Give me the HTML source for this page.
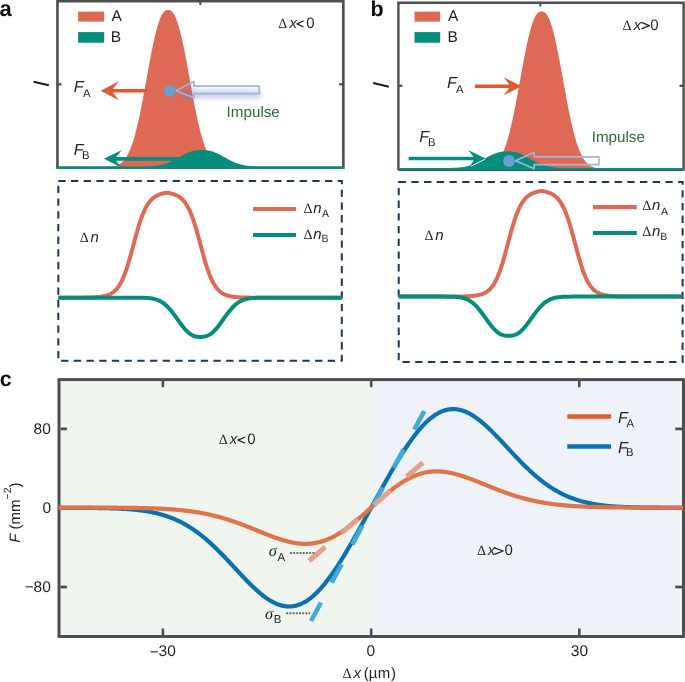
<!DOCTYPE html>
<html><head><meta charset="utf-8"><style>
html,body{margin:0;padding:0;background:#fff;}
svg{display:block;will-change:transform;}
text{font-family:"Liberation Sans",sans-serif;}
</style></head><body>
<svg width="685" height="682" viewBox="0 0 685 682" text-rendering="geometricPrecision">
<rect width="685" height="682" fill="#fff"/>
<defs><filter id="blur3" x="-30%" y="-80%" width="160%" height="260%"><feGaussianBlur stdDeviation="2.6"/></filter><linearGradient id="shaftg" x1="0" y1="0" x2="0" y2="1"><stop offset="0" stop-color="#ffffff" stop-opacity="0.95"/><stop offset="1" stop-color="#cdd5ea" stop-opacity="0.95"/></linearGradient></defs>
<text x="-0.64" y="16.3" font-size="22" style='font-family:"Liberation Sans"' font-weight="bold" fill="#111">a</text>
<text x="370.38" y="16.2" font-size="21.5" style='font-family:"Liberation Sans"' font-weight="bold" fill="#111">b</text>
<text x="-0.24" y="385.7" font-size="21.5" style='font-family:"Liberation Sans"' font-weight="bold" fill="#111">c</text>
<path d="M57.45,168.7 V1.1 H343.35 V168.7" fill="none" stroke="#4d4e52" stroke-width="2.6"/>
<line x1="57.45" y1="167.6" x2="343.35" y2="167.6" stroke="#4d4e52" stroke-width="2.2"/>
<line x1="200.3" y1="1" x2="200.3" y2="5" stroke="#4d4e52" stroke-width="2"/>
<line x1="57" y1="84.3" x2="61.5" y2="84.3" stroke="#4d4e52" stroke-width="2.3"/>
<line x1="344" y1="84.3" x2="339.1" y2="84.3" stroke="#4d4e52" stroke-width="2.3"/>
<path d="M59,167.5 L59,167.5 L59.5,167.5 L60,167.5 L60.5,167.5 L61,167.5 L61.5,167.5 L62,167.5 L62.5,167.5 L63,167.5 L63.5,167.5 L64,167.5 L64.5,167.5 L65,167.5 L65.5,167.5 L66,167.5 L66.5,167.5 L67,167.5 L67.5,167.5 L68,167.5 L68.5,167.5 L69,167.5 L69.5,167.5 L70,167.5 L70.5,167.5 L71,167.5 L71.5,167.5 L72,167.5 L72.5,167.5 L73,167.5 L73.5,167.5 L74,167.5 L74.5,167.5 L75,167.5 L75.5,167.5 L76,167.5 L76.5,167.5 L77,167.5 L77.5,167.5 L78,167.5 L78.5,167.5 L79,167.5 L79.5,167.5 L80,167.5 L80.5,167.5 L81,167.5 L81.5,167.5 L82,167.5 L82.5,167.5 L83,167.5 L83.5,167.5 L84,167.5 L84.5,167.5 L85,167.5 L85.5,167.5 L86,167.5 L86.5,167.5 L87,167.5 L87.5,167.5 L88,167.5 L88.5,167.5 L89,167.5 L89.5,167.5 L90,167.5 L90.5,167.5 L91,167.5 L91.5,167.5 L92,167.5 L92.5,167.5 L93,167.5 L93.5,167.5 L94,167.49 L94.5,167.49 L95,167.49 L95.5,167.49 L96,167.49 L96.5,167.49 L97,167.49 L97.5,167.48 L98,167.48 L98.5,167.48 L99,167.48 L99.5,167.47 L100,167.47 L100.5,167.46 L101,167.46 L101.5,167.45 L102,167.44 L102.5,167.43 L103,167.42 L103.5,167.41 L104,167.4 L104.5,167.39 L105,167.37 L105.5,167.35 L106,167.33 L106.5,167.31 L107,167.28 L107.5,167.25 L108,167.22 L108.5,167.18 L109,167.14 L109.5,167.1 L110,167.05 L110.5,166.99 L111,166.93 L111.5,166.86 L112,166.78 L112.5,166.7 L113,166.61 L113.5,166.5 L114,166.39 L114.5,166.26 L115,166.13 L115.5,165.98 L116,165.81 L116.5,165.63 L117,165.44 L117.5,165.22 L118,164.99 L118.5,164.74 L119,164.46 L119.5,164.16 L120,163.84 L120.5,163.49 L121,163.12 L121.5,162.71 L122,162.28 L122.5,161.81 L123,161.31 L123.5,160.77 L124,160.19 L124.5,159.57 L125,158.92 L125.5,158.22 L126,157.47 L126.5,156.68 L127,155.84 L127.5,154.95 L128,154.01 L128.5,153.02 L129,151.97 L129.5,150.86 L130,149.7 L130.5,148.48 L131,147.19 L131.5,145.85 L132,144.45 L132.5,142.98 L133,141.45 L133.5,139.85 L134,138.19 L134.5,136.47 L135,134.68 L135.5,132.83 L136,130.91 L136.5,128.93 L137,126.89 L137.5,124.79 L138,122.62 L138.5,120.4 L139,118.13 L139.5,115.8 L140,113.41 L140.5,110.98 L141,108.5 L141.5,105.98 L142,103.41 L142.5,100.81 L143,98.17 L143.5,95.5 L144,92.81 L144.5,90.09 L145,87.35 L145.5,84.6 L146,81.84 L146.5,79.08 L147,76.31 L147.5,73.55 L148,70.79 L148.5,68.05 L149,65.33 L149.5,62.63 L150,59.96 L150.5,57.32 L151,54.72 L151.5,52.17 L152,49.65 L152.5,47.19 L153,44.79 L153.5,42.44 L154,40.16 L154.5,37.95 L155,35.8 L155.5,33.73 L156,31.74 L156.5,29.83 L157,28 L157.5,26.25 L158,24.59 L158.5,23.03 L159,21.55 L159.5,20.16 L160,18.86 L160.5,17.66 L161,16.55 L161.5,15.54 L162,14.61 L162.5,13.78 L163,13.04 L163.5,12.39 L164,11.82 L164.5,11.34 L165,10.93 L165.5,10.61 L166,10.36 L166.5,10.18 L167,10.06 L167.5,9.99 L168,9.97 L168.5,9.98 L169,10.02 L169.5,10.12 L170,10.28 L170.5,10.5 L171,10.79 L171.5,11.17 L172,11.62 L172.5,12.15 L173,12.77 L173.5,13.47 L174,14.27 L174.5,15.16 L175,16.14 L175.5,17.21 L176,18.37 L176.5,19.63 L177,20.98 L177.5,22.42 L178,23.96 L178.5,25.58 L179,27.29 L179.5,29.08 L180,30.96 L180.5,32.93 L181,34.96 L181.5,37.08 L182,39.27 L182.5,41.52 L183,43.84 L183.5,46.22 L184,48.66 L184.5,51.15 L185,53.69 L185.5,56.28 L186,58.9 L186.5,61.56 L187,64.25 L187.5,66.96 L188,69.69 L188.5,72.44 L189,75.2 L189.5,77.97 L190,80.74 L190.5,83.5 L191,86.25 L191.5,89 L192,91.72 L192.5,94.43 L193,97.11 L193.5,99.76 L194,102.37 L194.5,104.96 L195,107.5 L195.5,109.99 L196,112.45 L196.5,114.85 L197,117.2 L197.5,119.5 L198,121.74 L198.5,123.93 L199,126.06 L199.5,128.12 L200,130.13 L200.5,132.07 L201,133.94 L201.5,135.76 L202,137.51 L202.5,139.19 L203,140.82 L203.5,142.37 L204,143.87 L204.5,145.3 L205,146.66 L205.5,147.97 L206,149.22 L206.5,150.4 L207,151.53 L207.5,152.6 L208,153.62 L208.5,154.58 L209,155.49 L209.5,156.35 L210,157.16 L210.5,157.93 L211,158.64 L211.5,159.32 L212,159.95 L212.5,160.54 L213,161.09 L213.5,161.61 L214,162.09 L214.5,162.54 L215,162.96 L215.5,163.35 L216,163.71 L216.5,164.04 L217,164.34 L217.5,164.63 L218,164.89 L218.5,165.13 L219,165.35 L219.5,165.56 L220,165.74 L220.5,165.91 L221,166.07 L221.5,166.21 L222,166.34 L222.5,166.46 L223,166.57 L223.5,166.66 L224,166.75 L224.5,166.83 L225,166.9 L225.5,166.97 L226,167.03 L226.5,167.08 L227,167.13 L227.5,167.17 L228,167.21 L228.5,167.24 L229,167.27 L229.5,167.3 L230,167.32 L230.5,167.34 L231,167.36 L231.5,167.38 L232,167.4 L232.5,167.41 L233,167.42 L233.5,167.43 L234,167.44 L234.5,167.45 L235,167.45 L235.5,167.46 L236,167.47 L236.5,167.47 L237,167.47 L237.5,167.48 L238,167.48 L238.5,167.48 L239,167.49 L239.5,167.49 L240,167.49 L240.5,167.49 L241,167.49 L241.5,167.49 L242,167.49 L242.5,167.5 L243,167.5 L243.5,167.5 L244,167.5 L244.5,167.5 L245,167.5 L245.5,167.5 L246,167.5 L246.5,167.5 L247,167.5 L247.5,167.5 L248,167.5 L248.5,167.5 L249,167.5 L249.5,167.5 L250,167.5 L250.5,167.5 L251,167.5 L251.5,167.5 L252,167.5 L252.5,167.5 L253,167.5 L253.5,167.5 L254,167.5 L254.5,167.5 L255,167.5 L255.5,167.5 L256,167.5 L256.5,167.5 L257,167.5 L257.5,167.5 L258,167.5 L258.5,167.5 L259,167.5 L259.5,167.5 L260,167.5 L260.5,167.5 L261,167.5 L261.5,167.5 L262,167.5 L262.5,167.5 L263,167.5 L263.5,167.5 L264,167.5 L264.5,167.5 L265,167.5 L265.5,167.5 L266,167.5 L266.5,167.5 L267,167.5 L267.5,167.5 L268,167.5 L268.5,167.5 L269,167.5 L269.5,167.5 L270,167.5 L270.5,167.5 L271,167.5 L271.5,167.5 L272,167.5 L272.5,167.5 L273,167.5 L273.5,167.5 L274,167.5 L274.5,167.5 L275,167.5 L275.5,167.5 L276,167.5 L276.5,167.5 L277,167.5 L277.5,167.5 L278,167.5 L278.5,167.5 L279,167.5 L279.5,167.5 L280,167.5 L280.5,167.5 L281,167.5 L281.5,167.5 L282,167.5 L282.5,167.5 L283,167.5 L283.5,167.5 L284,167.5 L284.5,167.5 L285,167.5 L285.5,167.5 L286,167.5 L286.5,167.5 L287,167.5 L287.5,167.5 L288,167.5 L288.5,167.5 L289,167.5 L289.5,167.5 L290,167.5 L290.5,167.5 L291,167.5 L291.5,167.5 L292,167.5 L292.5,167.5 L293,167.5 L293.5,167.5 L294,167.5 L294.5,167.5 L295,167.5 L295.5,167.5 L296,167.5 L296.5,167.5 L297,167.5 L297.5,167.5 L298,167.5 L298.5,167.5 L299,167.5 L299.5,167.5 L300,167.5 L300.5,167.5 L301,167.5 L301.5,167.5 L302,167.5 L302.5,167.5 L303,167.5 L303.5,167.5 L304,167.5 L304.5,167.5 L305,167.5 L305.5,167.5 L306,167.5 L306.5,167.5 L307,167.5 L307.5,167.5 L308,167.5 L308.5,167.5 L309,167.5 L309.5,167.5 L310,167.5 L310.5,167.5 L311,167.5 L311.5,167.5 L312,167.5 L312.5,167.5 L313,167.5 L313.5,167.5 L314,167.5 L314.5,167.5 L315,167.5 L315.5,167.5 L316,167.5 L316.5,167.5 L317,167.5 L317.5,167.5 L318,167.5 L318.5,167.5 L319,167.5 L319.5,167.5 L320,167.5 L320.5,167.5 L321,167.5 L321.5,167.5 L322,167.5 L322.5,167.5 L323,167.5 L323.5,167.5 L324,167.5 L324.5,167.5 L325,167.5 L325.5,167.5 L326,167.5 L326.5,167.5 L327,167.5 L327.5,167.5 L328,167.5 L328.5,167.5 L329,167.5 L329.5,167.5 L330,167.5 L330.5,167.5 L331,167.5 L331.5,167.5 L332,167.5 L332.5,167.5 L333,167.5 L333.5,167.5 L334,167.5 L334.5,167.5 L335,167.5 L335.5,167.5 L336,167.5 L336.5,167.5 L337,167.5 L337.5,167.5 L338,167.5 L338.5,167.5 L339,167.5 L339.5,167.5 L340,167.5 L340.5,167.5 L341,167.5 L341.5,167.5 L342,167.5 L342,167.5 Z" fill="#de6a55"/>
<path d="M100.7,90.75 L118.8,81.3 L112.8,89 L146.7,89 L146.7,92.5 L112.8,92.5 L118.8,100.2 Z" fill="#e05a2e"/>
<path d="M103.9,158.8 L121.9,149.9 L116,156.9 L185,156.9 L185,160.7 L116,160.7 L121.6,167.4 Z" fill="#058d7c"/>
<path d="M57,168.7 L57,166.5 L57.5,166.5 L58,166.5 L58.5,166.5 L59,166.5 L59.5,166.5 L60,166.5 L60.5,166.5 L61,166.5 L61.5,166.5 L62,166.5 L62.5,166.5 L63,166.5 L63.5,166.5 L64,166.5 L64.5,166.5 L65,166.5 L65.5,166.5 L66,166.5 L66.5,166.5 L67,166.5 L67.5,166.5 L68,166.5 L68.5,166.5 L69,166.5 L69.5,166.5 L70,166.5 L70.5,166.5 L71,166.5 L71.5,166.5 L72,166.5 L72.5,166.5 L73,166.5 L73.5,166.5 L74,166.5 L74.5,166.5 L75,166.5 L75.5,166.5 L76,166.5 L76.5,166.5 L77,166.5 L77.5,166.5 L78,166.5 L78.5,166.5 L79,166.5 L79.5,166.5 L80,166.5 L80.5,166.5 L81,166.5 L81.5,166.5 L82,166.5 L82.5,166.5 L83,166.5 L83.5,166.5 L84,166.5 L84.5,166.5 L85,166.5 L85.5,166.5 L86,166.5 L86.5,166.5 L87,166.5 L87.5,166.5 L88,166.5 L88.5,166.5 L89,166.5 L89.5,166.5 L90,166.5 L90.5,166.5 L91,166.5 L91.5,166.5 L92,166.5 L92.5,166.5 L93,166.5 L93.5,166.5 L94,166.5 L94.5,166.5 L95,166.5 L95.5,166.5 L96,166.5 L96.5,166.5 L97,166.5 L97.5,166.5 L98,166.5 L98.5,166.5 L99,166.5 L99.5,166.5 L100,166.5 L100.5,166.5 L101,166.5 L101.5,166.5 L102,166.5 L102.5,166.5 L103,166.5 L103.5,166.5 L104,166.5 L104.5,166.5 L105,166.5 L105.5,166.5 L106,166.5 L106.5,166.5 L107,166.5 L107.5,166.5 L108,166.5 L108.5,166.5 L109,166.5 L109.5,166.5 L110,166.5 L110.5,166.5 L111,166.5 L111.5,166.5 L112,166.5 L112.5,166.5 L113,166.5 L113.5,166.5 L114,166.5 L114.5,166.5 L115,166.5 L115.5,166.5 L116,166.5 L116.5,166.5 L117,166.5 L117.5,166.5 L118,166.5 L118.5,166.5 L119,166.5 L119.5,166.5 L120,166.5 L120.5,166.5 L121,166.5 L121.5,166.5 L122,166.5 L122.5,166.5 L123,166.5 L123.5,166.5 L124,166.5 L124.5,166.5 L125,166.5 L125.5,166.5 L126,166.5 L126.5,166.5 L127,166.5 L127.5,166.5 L128,166.5 L128.5,166.5 L129,166.5 L129.5,166.5 L130,166.5 L130.5,166.5 L131,166.5 L131.5,166.5 L132,166.5 L132.5,166.5 L133,166.49 L133.5,166.49 L134,166.49 L134.5,166.49 L135,166.49 L135.5,166.49 L136,166.49 L136.5,166.49 L137,166.49 L137.5,166.48 L138,166.48 L138.5,166.48 L139,166.48 L139.5,166.47 L140,166.47 L140.5,166.46 L141,166.46 L141.5,166.45 L142,166.45 L142.5,166.44 L143,166.44 L143.5,166.43 L144,166.42 L144.5,166.41 L145,166.4 L145.5,166.39 L146,166.38 L146.5,166.36 L147,166.35 L147.5,166.33 L148,166.32 L148.5,166.3 L149,166.28 L149.5,166.25 L150,166.23 L150.5,166.2 L151,166.17 L151.5,166.14 L152,166.11 L152.5,166.07 L153,166.03 L153.5,165.99 L154,165.95 L154.5,165.9 L155,165.85 L155.5,165.79 L156,165.73 L156.5,165.67 L157,165.6 L157.5,165.53 L158,165.45 L158.5,165.37 L159,165.29 L159.5,165.2 L160,165.1 L160.5,165 L161,164.89 L161.5,164.78 L162,164.66 L162.5,164.54 L163,164.41 L163.5,164.28 L164,164.13 L164.5,163.99 L165,163.83 L165.5,163.67 L166,163.51 L166.5,163.33 L167,163.15 L167.5,162.97 L168,162.77 L168.5,162.58 L169,162.37 L169.5,162.16 L170,161.95 L170.5,161.72 L171,161.49 L171.5,161.26 L172,161.02 L172.5,160.78 L173,160.53 L173.5,160.28 L174,160.02 L174.5,159.76 L175,159.49 L175.5,159.23 L176,158.96 L176.5,158.68 L177,158.41 L177.5,158.13 L178,157.85 L178.5,157.57 L179,157.29 L179.5,157.01 L180,156.73 L180.5,156.45 L181,156.17 L181.5,155.9 L182,155.62 L182.5,155.35 L183,155.08 L183.5,154.82 L184,154.56 L184.5,154.3 L185,154.05 L185.5,153.81 L186,153.57 L186.5,153.33 L187,153.11 L187.5,152.88 L188,152.67 L188.5,152.46 L189,152.26 L189.5,152.07 L190,151.89 L190.5,151.71 L191,151.55 L191.5,151.39 L192,151.24 L192.5,151.1 L193,150.97 L193.5,150.85 L194,150.73 L194.5,150.63 L195,150.53 L195.5,150.44 L196,150.37 L196.5,150.3 L197,150.23 L197.5,150.18 L198,150.13 L198.5,150.1 L199,150.07 L199.5,150.04 L200,150.02 L200.5,150.01 L201,150 L201.5,150 L202,150 L202.5,150 L203,150.01 L203.5,150.02 L204,150.04 L204.5,150.06 L205,150.09 L205.5,150.13 L206,150.17 L206.5,150.22 L207,150.28 L207.5,150.35 L208,150.43 L208.5,150.51 L209,150.61 L209.5,150.71 L210,150.82 L210.5,150.94 L211,151.07 L211.5,151.21 L212,151.36 L212.5,151.52 L213,151.68 L213.5,151.85 L214,152.04 L214.5,152.22 L215,152.42 L215.5,152.63 L216,152.84 L216.5,153.06 L217,153.29 L217.5,153.52 L218,153.76 L218.5,154 L219,154.25 L219.5,154.51 L220,154.77 L220.5,155.03 L221,155.3 L221.5,155.57 L222,155.84 L222.5,156.12 L223,156.4 L223.5,156.67 L224,156.95 L224.5,157.23 L225,157.51 L225.5,157.79 L226,158.07 L226.5,158.35 L227,158.63 L227.5,158.9 L228,159.17 L228.5,159.44 L229,159.71 L229.5,159.97 L230,160.23 L230.5,160.48 L231,160.73 L231.5,160.97 L232,161.21 L232.5,161.45 L233,161.68 L233.5,161.9 L234,162.12 L234.5,162.33 L235,162.54 L235.5,162.74 L236,162.93 L236.5,163.12 L237,163.3 L237.5,163.47 L238,163.64 L238.5,163.8 L239,163.96 L239.5,164.1 L240,164.25 L240.5,164.38 L241,164.51 L241.5,164.64 L242,164.76 L242.5,164.87 L243,164.98 L243.5,165.08 L244,165.18 L244.5,165.27 L245,165.36 L245.5,165.44 L246,165.51 L246.5,165.59 L247,165.66 L247.5,165.72 L248,165.78 L248.5,165.84 L249,165.89 L249.5,165.94 L250,165.98 L250.5,166.03 L251,166.07 L251.5,166.1 L252,166.14 L252.5,166.17 L253,166.2 L253.5,166.22 L254,166.25 L254.5,166.27 L255,166.29 L255.5,166.31 L256,166.33 L256.5,166.35 L257,166.36 L257.5,166.38 L258,166.39 L258.5,166.4 L259,166.41 L259.5,166.42 L260,166.43 L260.5,166.43 L261,166.44 L261.5,166.45 L262,166.45 L262.5,166.46 L263,166.46 L263.5,166.47 L264,166.47 L264.5,166.47 L265,166.48 L265.5,166.48 L266,166.48 L266.5,166.48 L267,166.49 L267.5,166.49 L268,166.49 L268.5,166.49 L269,166.49 L269.5,166.49 L270,166.49 L270.5,166.49 L271,166.5 L271.5,166.5 L272,166.5 L272.5,166.5 L273,166.5 L273.5,166.5 L274,166.5 L274.5,166.5 L275,166.5 L275.5,166.5 L276,166.5 L276.5,166.5 L277,166.5 L277.5,166.5 L278,166.5 L278.5,166.5 L279,166.5 L279.5,166.5 L280,166.5 L280.5,166.5 L281,166.5 L281.5,166.5 L282,166.5 L282.5,166.5 L283,166.5 L283.5,166.5 L284,166.5 L284.5,166.5 L285,166.5 L285.5,166.5 L286,166.5 L286.5,166.5 L287,166.5 L287.5,166.5 L288,166.5 L288.5,166.5 L289,166.5 L289.5,166.5 L290,166.5 L290.5,166.5 L291,166.5 L291.5,166.5 L292,166.5 L292.5,166.5 L293,166.5 L293.5,166.5 L294,166.5 L294.5,166.5 L295,166.5 L295.5,166.5 L296,166.5 L296.5,166.5 L297,166.5 L297.5,166.5 L298,166.5 L298.5,166.5 L299,166.5 L299.5,166.5 L300,166.5 L300.5,166.5 L301,166.5 L301.5,166.5 L302,166.5 L302.5,166.5 L303,166.5 L303.5,166.5 L304,166.5 L304.5,166.5 L305,166.5 L305.5,166.5 L306,166.5 L306.5,166.5 L307,166.5 L307.5,166.5 L308,166.5 L308.5,166.5 L309,166.5 L309.5,166.5 L310,166.5 L310.5,166.5 L311,166.5 L311.5,166.5 L312,166.5 L312.5,166.5 L313,166.5 L313.5,166.5 L314,166.5 L314.5,166.5 L315,166.5 L315.5,166.5 L316,166.5 L316.5,166.5 L317,166.5 L317.5,166.5 L318,166.5 L318.5,166.5 L319,166.5 L319.5,166.5 L320,166.5 L320.5,166.5 L321,166.5 L321.5,166.5 L322,166.5 L322.5,166.5 L323,166.5 L323.5,166.5 L324,166.5 L324.5,166.5 L325,166.5 L325.5,166.5 L326,166.5 L326.5,166.5 L327,166.5 L327.5,166.5 L328,166.5 L328.5,166.5 L329,166.5 L329.5,166.5 L330,166.5 L330.5,166.5 L331,166.5 L331.5,166.5 L332,166.5 L332.5,166.5 L333,166.5 L333.5,166.5 L334,166.5 L334.5,166.5 L335,166.5 L335.5,166.5 L336,166.5 L336.5,166.5 L337,166.5 L337.5,166.5 L338,166.5 L338.5,166.5 L339,166.5 L339.5,166.5 L340,166.5 L340.5,166.5 L341,166.5 L341.5,166.5 L342,166.5 L342.5,166.5 L343,166.5 L343.5,166.5 L344,166.5 L344.5,166.5 L344.5,168.7 Z" fill="#058d7c"/>
<path transform="translate(1.5,4.5)" d="M175.7,90.7 L193.9,81.4 L193.9,86.1 L259.2,86.1 L259.2,93.7 L193.9,93.7 L193.9,97.9 Z" fill="#6878c0" opacity="0.34" filter="url(#blur3)"/>
<path d="M175.7,90.7 L193.9,81.4 L193.9,86.1 L259.2,86.1 L259.2,93.7 L193.9,93.7 L193.9,97.9 Z" fill="none" stroke="#9db7da" stroke-width="1.7" stroke-linejoin="round"/>
<circle cx="169.9" cy="90.7" r="6" fill="#709dd0"/>
<rect x="78.1" y="11.6" width="26.1" height="10" fill="#de6a55"/>
<rect x="78.1" y="32.1" width="26.1" height="10.6" fill="#058d7c"/>
<text x="111.57" y="21.4" font-size="15.5" style='font-family:"Liberation Sans"' fill="#231f20">A</text>
<text x="110.73" y="41.8" font-size="15.5" style='font-family:"Liberation Sans"' fill="#231f20">B</text>
<text x="278.27" y="27.5" font-size="14" style='font-family:"Liberation Serif"' fill="#231f20">Δ</text><text x="289.4" y="27.5" font-size="15" style='font-family:"Liberation Sans"' font-style="italic" fill="#231f20">x</text><text x="306.21" y="27.5" font-size="15" style='font-family:"Liberation Sans"' fill="#231f20">0</text>
<polyline points="303.6,20.7 297.0,23.9 303.6,27.0" fill="none" stroke="#231f20" stroke-width="1.25" stroke-linejoin="round"/>
<line x1="33.6" y1="81.7" x2="48.8" y2="85.3" stroke="#1a1a1a" stroke-width="2.1"/>
<text x="73.71" y="92.2" font-size="16" style='font-family:"Liberation Sans"' font-style="italic" fill="#231f20">F</text>
<text x="82.98" y="96.6" font-size="11.3" style='font-family:"Liberation Sans"' fill="#231f20">A</text>
<text x="73.71" y="154.5" font-size="16" style='font-family:"Liberation Sans"' font-style="italic" fill="#231f20">F</text>
<text x="82.07" y="158.6" font-size="11.3" style='font-family:"Liberation Sans"' fill="#231f20">B</text>
<text x="226.6" y="116.5" font-size="15.2" style='font-family:"Liberation Sans"' fill="#2d6a37">I</text><text x="230.82" y="116.5" font-size="15.2" style='font-family:"Liberation Sans"' fill="#2d6a37">m</text><text x="243.48" y="116.5" font-size="15.2" style='font-family:"Liberation Sans"' fill="#2d6a37">p</text><text x="251.94" y="116.5" font-size="15.2" style='font-family:"Liberation Sans"' fill="#2d6a37">u</text><text x="260.39" y="116.5" font-size="15.2" style='font-family:"Liberation Sans"' fill="#2d6a37">l</text><text x="263.77" y="116.5" font-size="15.2" style='font-family:"Liberation Sans"' fill="#2d6a37">s</text><text x="271.37" y="116.5" font-size="15.2" style='font-family:"Liberation Sans"' fill="#2d6a37">e</text>
<path d="M398.4,170.2 V2.8 H683.6 V170.2" fill="none" stroke="#4d4e52" stroke-width="2.4"/>
<line x1="398.4" y1="169.9" x2="683.6" y2="169.9" stroke="#4d4e52" stroke-width="2"/>
<line x1="540.3" y1="3" x2="540.3" y2="6.6" stroke="#4d4e52" stroke-width="2"/>
<line x1="398" y1="85.8" x2="402.3" y2="85.8" stroke="#4d4e52" stroke-width="2.3"/>
<line x1="684" y1="85.8" x2="679.5" y2="85.8" stroke="#4d4e52" stroke-width="2.3"/>
<path d="M400,169 L400,169 L400.5,169 L401,169 L401.5,169 L402,169 L402.5,169 L403,169 L403.5,169 L404,169 L404.5,169 L405,169 L405.5,169 L406,169 L406.5,169 L407,169 L407.5,169 L408,169 L408.5,169 L409,169 L409.5,169 L410,169 L410.5,169 L411,169 L411.5,169 L412,169 L412.5,169 L413,169 L413.5,169 L414,169 L414.5,169 L415,169 L415.5,169 L416,169 L416.5,169 L417,169 L417.5,169 L418,169 L418.5,169 L419,169 L419.5,169 L420,169 L420.5,169 L421,169 L421.5,169 L422,169 L422.5,169 L423,169 L423.5,169 L424,169 L424.5,169 L425,169 L425.5,169 L426,169 L426.5,169 L427,169 L427.5,169 L428,169 L428.5,169 L429,169 L429.5,169 L430,169 L430.5,169 L431,169 L431.5,169 L432,169 L432.5,169 L433,169 L433.5,169 L434,169 L434.5,169 L435,169 L435.5,169 L436,169 L436.5,169 L437,169 L437.5,169 L438,169 L438.5,169 L439,169 L439.5,169 L440,169 L440.5,169 L441,169 L441.5,169 L442,169 L442.5,169 L443,169 L443.5,169 L444,169 L444.5,169 L445,169 L445.5,169 L446,169 L446.5,169 L447,169 L447.5,169 L448,169 L448.5,169 L449,169 L449.5,169 L450,169 L450.5,169 L451,169 L451.5,169 L452,169 L452.5,169 L453,169 L453.5,169 L454,169 L454.5,169 L455,169 L455.5,169 L456,169 L456.5,169 L457,169 L457.5,169 L458,169 L458.5,169 L459,169 L459.5,169 L460,169 L460.5,169 L461,169 L461.5,169 L462,169 L462.5,169 L463,169 L463.5,169 L464,169 L464.5,169 L465,169 L465.5,169 L466,169 L466.5,169 L467,169 L467.5,168.99 L468,168.99 L468.5,168.99 L469,168.99 L469.5,168.99 L470,168.99 L470.5,168.99 L471,168.98 L471.5,168.98 L472,168.98 L472.5,168.98 L473,168.97 L473.5,168.97 L474,168.96 L474.5,168.96 L475,168.95 L475.5,168.94 L476,168.93 L476.5,168.92 L477,168.91 L477.5,168.9 L478,168.89 L478.5,168.87 L479,168.85 L479.5,168.83 L480,168.81 L480.5,168.78 L481,168.75 L481.5,168.72 L482,168.68 L482.5,168.64 L483,168.6 L483.5,168.55 L484,168.49 L484.5,168.43 L485,168.36 L485.5,168.28 L486,168.2 L486.5,168.11 L487,168 L487.5,167.89 L488,167.76 L488.5,167.63 L489,167.48 L489.5,167.31 L490,167.13 L490.5,166.94 L491,166.72 L491.5,166.49 L492,166.24 L492.5,165.96 L493,165.66 L493.5,165.34 L494,164.99 L494.5,164.62 L495,164.21 L495.5,163.78 L496,163.31 L496.5,162.81 L497,162.27 L497.5,161.69 L498,161.07 L498.5,160.42 L499,159.72 L499.5,158.97 L500,158.18 L500.5,157.34 L501,156.45 L501.5,155.51 L502,154.52 L502.5,153.47 L503,152.36 L503.5,151.2 L504,149.98 L504.5,148.69 L505,147.35 L505.5,145.95 L506,144.48 L506.5,142.95 L507,141.35 L507.5,139.69 L508,137.97 L508.5,136.18 L509,134.33 L509.5,132.41 L510,130.43 L510.5,128.39 L511,126.29 L511.5,124.12 L512,121.9 L512.5,119.63 L513,117.3 L513.5,114.91 L514,112.48 L514.5,110 L515,107.48 L515.5,104.91 L516,102.31 L516.5,99.67 L517,97 L517.5,94.31 L518,91.59 L518.5,88.85 L519,86.1 L519.5,83.34 L520,80.58 L520.5,77.81 L521,75.05 L521.5,72.29 L522,69.55 L522.5,66.83 L523,64.13 L523.5,61.46 L524,58.82 L524.5,56.22 L525,53.67 L525.5,51.15 L526,48.69 L526.5,46.29 L527,43.94 L527.5,41.66 L528,39.45 L528.5,37.3 L529,35.23 L529.5,33.24 L530,31.33 L530.5,29.5 L531,27.75 L531.5,26.09 L532,24.53 L532.5,23.05 L533,21.66 L533.5,20.36 L534,19.16 L534.5,18.05 L535,17.04 L535.5,16.11 L536,15.28 L536.5,14.54 L537,13.89 L537.5,13.32 L538,12.84 L538.5,12.43 L539,12.11 L539.5,11.86 L540,11.68 L540.5,11.56 L541,11.49 L541.5,11.47 L542,11.48 L542.5,11.52 L543,11.62 L543.5,11.78 L544,12 L544.5,12.29 L545,12.67 L545.5,13.12 L546,13.65 L546.5,14.27 L547,14.97 L547.5,15.77 L548,16.66 L548.5,17.64 L549,18.71 L549.5,19.87 L550,21.13 L550.5,22.48 L551,23.92 L551.5,25.46 L552,27.08 L552.5,28.79 L553,30.58 L553.5,32.46 L554,34.43 L554.5,36.46 L555,38.58 L555.5,40.77 L556,43.02 L556.5,45.34 L557,47.72 L557.5,50.16 L558,52.65 L558.5,55.19 L559,57.78 L559.5,60.4 L560,63.06 L560.5,65.75 L561,68.46 L561.5,71.19 L562,73.94 L562.5,76.7 L563,79.47 L563.5,82.24 L564,85 L564.5,87.75 L565,90.5 L565.5,93.22 L566,95.93 L566.5,98.61 L567,101.26 L567.5,103.87 L568,106.46 L568.5,109 L569,111.49 L569.5,113.95 L570,116.35 L570.5,118.7 L571,121 L571.5,123.24 L572,125.43 L572.5,127.56 L573,129.62 L573.5,131.63 L574,133.57 L574.5,135.44 L575,137.26 L575.5,139.01 L576,140.69 L576.5,142.32 L577,143.87 L577.5,145.37 L578,146.8 L578.5,148.16 L579,149.47 L579.5,150.72 L580,151.9 L580.5,153.03 L581,154.1 L581.5,155.12 L582,156.08 L582.5,156.99 L583,157.85 L583.5,158.66 L584,159.43 L584.5,160.14 L585,160.82 L585.5,161.45 L586,162.04 L586.5,162.59 L587,163.11 L587.5,163.59 L588,164.04 L588.5,164.46 L589,164.85 L589.5,165.21 L590,165.54 L590.5,165.84 L591,166.13 L591.5,166.39 L592,166.63 L592.5,166.85 L593,167.06 L593.5,167.24 L594,167.41 L594.5,167.57 L595,167.71 L595.5,167.84 L596,167.96 L596.5,168.07 L597,168.16 L597.5,168.25 L598,168.33 L598.5,168.4 L599,168.47 L599.5,168.53 L600,168.58 L600.5,168.63 L601,168.67 L601.5,168.71 L602,168.74 L602.5,168.77 L603,168.8 L603.5,168.82 L604,168.84 L604.5,168.86 L605,168.88 L605.5,168.9 L606,168.91 L606.5,168.92 L607,168.93 L607.5,168.94 L608,168.95 L608.5,168.95 L609,168.96 L609.5,168.97 L610,168.97 L610.5,168.97 L611,168.98 L611.5,168.98 L612,168.98 L612.5,168.99 L613,168.99 L613.5,168.99 L614,168.99 L614.5,168.99 L615,168.99 L615.5,168.99 L616,169 L616.5,169 L617,169 L617.5,169 L618,169 L618.5,169 L619,169 L619.5,169 L620,169 L620.5,169 L621,169 L621.5,169 L622,169 L622.5,169 L623,169 L623.5,169 L624,169 L624.5,169 L625,169 L625.5,169 L626,169 L626.5,169 L627,169 L627.5,169 L628,169 L628.5,169 L629,169 L629.5,169 L630,169 L630.5,169 L631,169 L631.5,169 L632,169 L632.5,169 L633,169 L633.5,169 L634,169 L634.5,169 L635,169 L635.5,169 L636,169 L636.5,169 L637,169 L637.5,169 L638,169 L638.5,169 L639,169 L639.5,169 L640,169 L640.5,169 L641,169 L641.5,169 L642,169 L642.5,169 L643,169 L643.5,169 L644,169 L644.5,169 L645,169 L645.5,169 L646,169 L646.5,169 L647,169 L647.5,169 L648,169 L648.5,169 L649,169 L649.5,169 L650,169 L650.5,169 L651,169 L651.5,169 L652,169 L652.5,169 L653,169 L653.5,169 L654,169 L654.5,169 L655,169 L655.5,169 L656,169 L656.5,169 L657,169 L657.5,169 L658,169 L658.5,169 L659,169 L659.5,169 L660,169 L660.5,169 L661,169 L661.5,169 L662,169 L662.5,169 L663,169 L663.5,169 L664,169 L664.5,169 L665,169 L665.5,169 L666,169 L666.5,169 L667,169 L667.5,169 L668,169 L668.5,169 L669,169 L669.5,169 L670,169 L670.5,169 L671,169 L671.5,169 L672,169 L672.5,169 L673,169 L673.5,169 L674,169 L674.5,169 L675,169 L675.5,169 L676,169 L676.5,169 L677,169 L677.5,169 L678,169 L678.5,169 L679,169 L679.5,169 L680,169 L680.5,169 L681,169 L681.5,169 L682,169 L682,169 Z" fill="#de6a55"/>
<path d="M521.5,86.3 L503.7,77.2 L509.3,84.5 L474.8,84.5 L474.8,88.1 L509.3,88.1 L503.7,95.3 Z" fill="#e05a2e"/>
<path d="M398.5,170.2 L398.5,168 L399,168 L399.5,168 L400,168 L400.5,168 L401,168 L401.5,168 L402,168 L402.5,168 L403,168 L403.5,168 L404,168 L404.5,168 L405,168 L405.5,168 L406,168 L406.5,168 L407,168 L407.5,168 L408,168 L408.5,168 L409,168 L409.5,168 L410,168 L410.5,168 L411,168 L411.5,168 L412,168 L412.5,168 L413,168 L413.5,168 L414,168 L414.5,168 L415,168 L415.5,168 L416,168 L416.5,168 L417,168 L417.5,168 L418,168 L418.5,168 L419,168 L419.5,168 L420,168 L420.5,168 L421,168 L421.5,168 L422,168 L422.5,168 L423,168 L423.5,168 L424,168 L424.5,168 L425,168 L425.5,168 L426,168 L426.5,168 L427,168 L427.5,168 L428,168 L428.5,168 L429,168 L429.5,168 L430,168 L430.5,168 L431,168 L431.5,168 L432,168 L432.5,168 L433,168 L433.5,168 L434,168 L434.5,168 L435,168 L435.5,168 L436,168 L436.5,168 L437,168 L437.5,168 L438,168 L438.5,167.99 L439,167.99 L439.5,167.99 L440,167.99 L440.5,167.99 L441,167.99 L441.5,167.99 L442,167.99 L442.5,167.99 L443,167.98 L443.5,167.98 L444,167.98 L444.5,167.98 L445,167.97 L445.5,167.97 L446,167.96 L446.5,167.96 L447,167.96 L447.5,167.95 L448,167.94 L448.5,167.94 L449,167.93 L449.5,167.92 L450,167.91 L450.5,167.9 L451,167.89 L451.5,167.88 L452,167.87 L452.5,167.85 L453,167.84 L453.5,167.82 L454,167.8 L454.5,167.78 L455,167.76 L455.5,167.73 L456,167.71 L456.5,167.68 L457,167.65 L457.5,167.61 L458,167.58 L458.5,167.54 L459,167.5 L459.5,167.45 L460,167.4 L460.5,167.35 L461,167.3 L461.5,167.24 L462,167.18 L462.5,167.11 L463,167.04 L463.5,166.96 L464,166.88 L464.5,166.8 L465,166.71 L465.5,166.61 L466,166.51 L466.5,166.41 L467,166.29 L467.5,166.18 L468,166.05 L468.5,165.92 L469,165.79 L469.5,165.65 L470,165.5 L470.5,165.35 L471,165.19 L471.5,165.02 L472,164.85 L472.5,164.67 L473,164.48 L473.5,164.29 L474,164.09 L474.5,163.89 L475,163.68 L475.5,163.46 L476,163.24 L476.5,163.01 L477,162.78 L477.5,162.54 L478,162.29 L478.5,162.04 L479,161.79 L479.5,161.53 L480,161.27 L480.5,161.01 L481,160.74 L481.5,160.46 L482,160.19 L482.5,159.91 L483,159.63 L483.5,159.35 L484,159.07 L484.5,158.79 L485,158.51 L485.5,158.23 L486,157.95 L486.5,157.67 L487,157.39 L487.5,157.11 L488,156.84 L488.5,156.57 L489,156.3 L489.5,156.04 L490,155.78 L490.5,155.53 L491,155.28 L491.5,155.04 L492,154.8 L492.5,154.57 L493,154.35 L493.5,154.13 L494,153.92 L494.5,153.72 L495,153.52 L495.5,153.34 L496,153.16 L496.5,152.99 L497,152.83 L497.5,152.68 L498,152.53 L498.5,152.4 L499,152.28 L499.5,152.16 L500,152.05 L500.5,151.95 L501,151.86 L501.5,151.78 L502,151.71 L502.5,151.65 L503,151.59 L503.5,151.54 L504,151.5 L504.5,151.47 L505,151.45 L505.5,151.43 L506,151.41 L506.5,151.4 L507,151.4 L507.5,151.4 L508,151.4 L508.5,151.41 L509,151.42 L509.5,151.43 L510,151.46 L510.5,151.48 L511,151.52 L511.5,151.56 L512,151.61 L512.5,151.67 L513,151.74 L513.5,151.81 L514,151.9 L514.5,151.99 L515,152.09 L515.5,152.2 L516,152.32 L516.5,152.45 L517,152.59 L517.5,152.74 L518,152.89 L518.5,153.06 L519,153.23 L519.5,153.41 L520,153.6 L520.5,153.8 L521,154 L521.5,154.21 L522,154.43 L522.5,154.66 L523,154.89 L523.5,155.13 L524,155.38 L524.5,155.63 L525,155.88 L525.5,156.14 L526,156.41 L526.5,156.68 L527,156.95 L527.5,157.22 L528,157.5 L528.5,157.78 L529,158.06 L529.5,158.34 L530,158.62 L530.5,158.9 L531,159.19 L531.5,159.47 L532,159.75 L532.5,160.02 L533,160.3 L533.5,160.57 L534,160.84 L534.5,161.11 L535,161.38 L535.5,161.64 L536,161.89 L536.5,162.15 L537,162.39 L537.5,162.63 L538,162.87 L538.5,163.1 L539,163.33 L539.5,163.55 L540,163.76 L540.5,163.97 L541,164.17 L541.5,164.37 L542,164.56 L542.5,164.74 L543,164.92 L543.5,165.09 L544,165.25 L544.5,165.41 L545,165.56 L545.5,165.71 L546,165.84 L546.5,165.98 L547,166.1 L547.5,166.22 L548,166.34 L548.5,166.45 L549,166.55 L549.5,166.65 L550,166.74 L550.5,166.83 L551,166.92 L551.5,166.99 L552,167.07 L552.5,167.14 L553,167.2 L553.5,167.26 L554,167.32 L554.5,167.37 L555,167.42 L555.5,167.47 L556,167.51 L556.5,167.56 L557,167.59 L557.5,167.63 L558,167.66 L558.5,167.69 L559,167.72 L559.5,167.74 L560,167.77 L560.5,167.79 L561,167.81 L561.5,167.83 L562,167.84 L562.5,167.86 L563,167.87 L563.5,167.88 L564,167.9 L564.5,167.91 L565,167.92 L565.5,167.93 L566,167.93 L566.5,167.94 L567,167.95 L567.5,167.95 L568,167.96 L568.5,167.96 L569,167.97 L569.5,167.97 L570,167.97 L570.5,167.98 L571,167.98 L571.5,167.98 L572,167.98 L572.5,167.99 L573,167.99 L573.5,167.99 L574,167.99 L574.5,167.99 L575,167.99 L575.5,167.99 L576,167.99 L576.5,168 L577,168 L577.5,168 L578,168 L578.5,168 L579,168 L579.5,168 L580,168 L580.5,168 L581,168 L581.5,168 L582,168 L582.5,168 L583,168 L583.5,168 L584,168 L584.5,168 L585,168 L585.5,168 L586,168 L586.5,168 L587,168 L587.5,168 L588,168 L588.5,168 L589,168 L589.5,168 L590,168 L590.5,168 L591,168 L591.5,168 L592,168 L592.5,168 L593,168 L593.5,168 L594,168 L594.5,168 L595,168 L595.5,168 L596,168 L596.5,168 L597,168 L597.5,168 L598,168 L598.5,168 L599,168 L599.5,168 L600,168 L600.5,168 L601,168 L601.5,168 L602,168 L602.5,168 L603,168 L603.5,168 L604,168 L604.5,168 L605,168 L605.5,168 L606,168 L606.5,168 L607,168 L607.5,168 L608,168 L608.5,168 L609,168 L609.5,168 L610,168 L610.5,168 L611,168 L611.5,168 L612,168 L612.5,168 L613,168 L613.5,168 L614,168 L614.5,168 L615,168 L615.5,168 L616,168 L616.5,168 L617,168 L617.5,168 L618,168 L618.5,168 L619,168 L619.5,168 L620,168 L620.5,168 L621,168 L621.5,168 L622,168 L622.5,168 L623,168 L623.5,168 L624,168 L624.5,168 L625,168 L625.5,168 L626,168 L626.5,168 L627,168 L627.5,168 L628,168 L628.5,168 L629,168 L629.5,168 L630,168 L630.5,168 L631,168 L631.5,168 L632,168 L632.5,168 L633,168 L633.5,168 L634,168 L634.5,168 L635,168 L635.5,168 L636,168 L636.5,168 L637,168 L637.5,168 L638,168 L638.5,168 L639,168 L639.5,168 L640,168 L640.5,168 L641,168 L641.5,168 L642,168 L642.5,168 L643,168 L643.5,168 L644,168 L644.5,168 L645,168 L645.5,168 L646,168 L646.5,168 L647,168 L647.5,168 L648,168 L648.5,168 L649,168 L649.5,168 L650,168 L650.5,168 L651,168 L651.5,168 L652,168 L652.5,168 L653,168 L653.5,168 L654,168 L654.5,168 L655,168 L655.5,168 L656,168 L656.5,168 L657,168 L657.5,168 L658,168 L658.5,168 L659,168 L659.5,168 L660,168 L660.5,168 L661,168 L661.5,168 L662,168 L662.5,168 L663,168 L663.5,168 L664,168 L664.5,168 L665,168 L665.5,168 L666,168 L666.5,168 L667,168 L667.5,168 L668,168 L668.5,168 L669,168 L669.5,168 L670,168 L670.5,168 L671,168 L671.5,168 L672,168 L672.5,168 L673,168 L673.5,168 L674,168 L674.5,168 L675,168 L675.5,168 L676,168 L676.5,168 L677,168 L677.5,168 L678,168 L678.5,168 L679,168 L679.5,168 L680,168 L680.5,168 L681,168 L681.5,168 L682,168 L682.5,168 L683,168 L683.5,168 L684,168 L684.5,168 L684.5,170.2 Z" fill="#058d7c"/>
<path d="M485.6,158.5 L468,150 L473.6,156.8 L408.6,156.8 L408.6,160.3 L473.6,160.3 L469.5,167 Z" fill="#058d7c"/>
<line x1="485" y1="159.2" x2="471" y2="166.3" stroke="#ffffff" stroke-width="0.9"/>
<path d="M515.5,160.8 L534.2,152.3 L534.2,156.8 L598.9,156.8 L598.9,164.6 L534.2,164.6 L534.2,168.8 Z" fill="none" stroke="#9db7da" stroke-width="1.7" stroke-linejoin="round"/>
<circle cx="509" cy="161" r="5.9" fill="#709dd0"/>
<rect x="414.5" y="11.6" width="25.7" height="10" fill="#de6a55"/>
<rect x="414.5" y="32.1" width="25.7" height="10.6" fill="#058d7c"/>
<text x="448.07" y="21.4" font-size="15.5" style='font-family:"Liberation Sans"' fill="#231f20">A</text>
<text x="447.53" y="41.7" font-size="15.5" style='font-family:"Liberation Sans"' fill="#231f20">B</text>
<text x="622.47" y="29.5" font-size="14" style='font-family:"Liberation Serif"' fill="#231f20">Δ</text><text x="633.7" y="29.5" font-size="15" style='font-family:"Liberation Sans"' font-style="italic" fill="#231f20">x</text><text x="650.21" y="29.5" font-size="15" style='font-family:"Liberation Sans"' fill="#231f20">0</text>
<polyline points="641.4,22.4 649.4,25.7 641.4,28.9" fill="none" stroke="#231f20" stroke-width="1.25" stroke-linejoin="round"/>
<line x1="373.2" y1="83.1" x2="388.9" y2="86.8" stroke="#1a1a1a" stroke-width="2.1"/>
<text x="447.11" y="88.2" font-size="16" style='font-family:"Liberation Sans"' font-style="italic" fill="#231f20">F</text>
<text x="455.98" y="92.8" font-size="11.3" style='font-family:"Liberation Sans"' fill="#231f20">A</text>
<text x="419.31" y="142.4" font-size="16" style='font-family:"Liberation Sans"' font-style="italic" fill="#231f20">F</text>
<text x="427.97" y="146.4" font-size="11.3" style='font-family:"Liberation Sans"' fill="#231f20">B</text>
<text x="591.7" y="141.8" font-size="15.2" style='font-family:"Liberation Sans"' fill="#2d6a37">I</text><text x="595.92" y="141.8" font-size="15.2" style='font-family:"Liberation Sans"' fill="#2d6a37">m</text><text x="608.58" y="141.8" font-size="15.2" style='font-family:"Liberation Sans"' fill="#2d6a37">p</text><text x="617.04" y="141.8" font-size="15.2" style='font-family:"Liberation Sans"' fill="#2d6a37">u</text><text x="625.49" y="141.8" font-size="15.2" style='font-family:"Liberation Sans"' fill="#2d6a37">l</text><text x="628.87" y="141.8" font-size="15.2" style='font-family:"Liberation Sans"' fill="#2d6a37">s</text><text x="636.47" y="141.8" font-size="15.2" style='font-family:"Liberation Sans"' fill="#2d6a37">e</text>
<rect x="58.3" y="181.1" width="283.5" height="179.7" fill="none" stroke="#1d3560" stroke-width="2" stroke-dasharray="7.3 5.4"/>
<rect x="398.7" y="182" width="283.9" height="179.9" fill="none" stroke="#1d3560" stroke-width="2" stroke-dasharray="7.3 5.4"/>
<path d="M58.3,297.7 L58.8,297.7 L59.3,297.7 L59.8,297.7 L60.3,297.7 L60.8,297.7 L61.3,297.7 L61.8,297.7 L62.3,297.7 L62.8,297.7 L63.3,297.7 L63.8,297.7 L64.3,297.7 L64.8,297.7 L65.3,297.69 L65.8,297.69 L66.3,297.69 L66.8,297.69 L67.3,297.69 L67.8,297.69 L68.3,297.69 L68.8,297.69 L69.3,297.69 L69.8,297.69 L70.3,297.69 L70.8,297.69 L71.3,297.69 L71.8,297.69 L72.3,297.68 L72.8,297.68 L73.3,297.68 L73.8,297.68 L74.3,297.68 L74.8,297.68 L75.3,297.68 L75.8,297.67 L76.3,297.67 L76.8,297.67 L77.3,297.67 L77.8,297.67 L78.3,297.66 L78.8,297.66 L79.3,297.66 L79.8,297.65 L80.3,297.65 L80.8,297.65 L81.3,297.64 L81.8,297.64 L82.3,297.63 L82.8,297.63 L83.3,297.62 L83.8,297.62 L84.3,297.61 L84.8,297.61 L85.3,297.6 L85.8,297.59 L86.3,297.58 L86.8,297.57 L87.3,297.56 L87.8,297.55 L88.3,297.54 L88.8,297.53 L89.3,297.52 L89.8,297.5 L90.3,297.49 L90.8,297.47 L91.3,297.46 L91.8,297.44 L92.3,297.42 L92.8,297.4 L93.3,297.38 L93.8,297.35 L94.3,297.32 L94.8,297.3 L95.3,297.27 L95.8,297.23 L96.3,297.2 L96.8,297.16 L97.3,297.12 L97.8,297.08 L98.3,297.03 L98.8,296.98 L99.3,296.93 L99.8,296.87 L100.3,296.81 L100.8,296.74 L101.3,296.67 L101.8,296.59 L102.3,296.51 L102.8,296.42 L103.3,296.32 L103.8,296.22 L104.3,296.11 L104.8,296 L105.3,295.87 L105.8,295.74 L106.3,295.59 L106.8,295.44 L107.3,295.27 L107.8,295.09 L108.3,294.9 L108.8,294.7 L109.3,294.48 L109.8,294.25 L110.3,294 L110.8,293.73 L111.3,293.45 L111.8,293.14 L112.3,292.82 L112.8,292.47 L113.3,292.1 L113.8,291.71 L114.3,291.29 L114.8,290.84 L115.3,290.36 L115.8,289.85 L116.3,289.32 L116.8,288.74 L117.3,288.14 L117.8,287.49 L118.3,286.81 L118.8,286.09 L119.3,285.33 L119.8,284.52 L120.3,283.67 L120.8,282.78 L121.3,281.83 L121.8,280.84 L122.3,279.8 L122.8,278.71 L123.3,277.57 L123.8,276.38 L124.3,275.14 L124.8,273.84 L125.3,272.5 L125.8,271.1 L126.3,269.65 L126.8,268.16 L127.3,266.61 L127.8,265.03 L128.3,263.39 L128.8,261.72 L129.3,260.01 L129.8,258.27 L130.3,256.49 L130.8,254.69 L131.3,252.86 L131.8,251.02 L132.3,249.16 L132.8,247.29 L133.3,245.41 L133.8,243.53 L134.3,241.66 L134.8,239.8 L135.3,237.95 L135.8,236.11 L136.3,234.3 L136.8,232.52 L137.3,230.76 L137.8,229.04 L138.3,227.35 L138.8,225.71 L139.3,224.1 L139.8,222.54 L140.3,221.03 L140.8,219.56 L141.3,218.15 L141.8,216.78 L142.3,215.46 L142.8,214.2 L143.3,212.98 L143.8,211.82 L144.3,210.71 L144.8,209.64 L145.3,208.63 L145.8,207.66 L146.3,206.74 L146.8,205.86 L147.3,205.03 L147.8,204.25 L148.3,203.5 L148.8,202.79 L149.3,202.13 L149.8,201.49 L150.3,200.9 L150.8,200.34 L151.3,199.81 L151.8,199.31 L152.3,198.84 L152.8,198.39 L153.3,197.98 L153.8,197.59 L154.3,197.22 L154.8,196.87 L155.3,196.55 L155.8,196.25 L156.3,195.96 L156.8,195.69 L157.3,195.44 L157.8,195.21 L158.3,194.99 L158.8,194.78 L159.3,194.59 L159.8,194.41 L160.3,194.24 L160.8,194.08 L161.3,193.93 L161.8,193.79 L162.3,193.66 L162.8,193.54 L163.3,193.43 L163.8,193.32 L164.3,193.22 L164.8,193.13 L165.3,193.05 L165.8,192.97 L166.3,192.89 L166.8,192.82 L167.3,192.84 L167.8,192.91 L168.3,192.98 L168.8,193.06 L169.3,193.15 L169.8,193.24 L170.3,193.34 L170.8,193.45 L171.3,193.56 L171.8,193.69 L172.3,193.82 L172.8,193.96 L173.3,194.11 L173.8,194.27 L174.3,194.44 L174.8,194.62 L175.3,194.82 L175.8,195.03 L176.3,195.25 L176.8,195.49 L177.3,195.74 L177.8,196.02 L178.3,196.3 L178.8,196.61 L179.3,196.94 L179.8,197.29 L180.3,197.66 L180.8,198.06 L181.3,198.48 L181.8,198.93 L182.3,199.4 L182.8,199.91 L183.3,200.45 L183.8,201.01 L184.3,201.62 L184.8,202.26 L185.3,202.93 L185.8,203.65 L186.3,204.4 L186.8,205.2 L187.3,206.04 L187.8,206.92 L188.3,207.85 L188.8,208.83 L189.3,209.85 L189.8,210.92 L190.3,212.05 L190.8,213.22 L191.3,214.45 L191.8,215.72 L192.3,217.05 L192.8,218.43 L193.3,219.85 L193.8,221.33 L194.3,222.85 L194.8,224.42 L195.3,226.03 L195.8,227.69 L196.3,229.38 L196.8,231.11 L197.3,232.87 L197.8,234.66 L198.3,236.48 L198.8,238.31 L199.3,240.17 L199.8,242.03 L200.3,243.91 L200.8,245.79 L201.3,247.66 L201.8,249.53 L202.3,251.39 L202.8,253.23 L203.3,255.05 L203.8,256.85 L204.3,258.62 L204.8,260.36 L205.3,262.06 L205.8,263.72 L206.3,265.35 L206.8,266.93 L207.3,268.46 L207.8,269.95 L208.3,271.38 L208.8,272.77 L209.3,274.1 L209.8,275.39 L210.3,276.62 L210.8,277.8 L211.3,278.93 L211.8,280.01 L212.3,281.04 L212.8,282.02 L213.3,282.96 L213.8,283.84 L214.3,284.69 L214.8,285.48 L215.3,286.24 L215.8,286.95 L216.3,287.62 L216.8,288.26 L217.3,288.86 L217.8,289.43 L218.3,289.96 L218.8,290.46 L219.3,290.93 L219.8,291.37 L220.3,291.79 L220.8,292.18 L221.3,292.54 L221.8,292.88 L222.3,293.2 L222.8,293.51 L223.3,293.79 L223.8,294.05 L224.3,294.3 L224.8,294.53 L225.3,294.74 L225.8,294.94 L226.3,295.13 L226.8,295.3 L227.3,295.47 L227.8,295.62 L228.3,295.76 L228.8,295.9 L229.3,296.02 L229.8,296.14 L230.3,296.24 L230.8,296.34 L231.3,296.44 L231.8,296.53 L232.3,296.61 L232.8,296.68 L233.3,296.75 L233.8,296.82 L234.3,296.88 L234.8,296.94 L235.3,296.99 L235.8,297.04 L236.3,297.09 L236.8,297.13 L237.3,297.17 L237.8,297.21 L238.3,297.24 L238.8,297.27 L239.3,297.3 L239.8,297.33 L240.3,297.36 L240.8,297.38 L241.3,297.4 L241.8,297.42 L242.3,297.44 L242.8,297.46 L243.3,297.48 L243.8,297.49 L244.3,297.51 L244.8,297.52 L245.3,297.53 L245.8,297.55 L246.3,297.56 L246.8,297.57 L247.3,297.58 L247.8,297.58 L248.3,297.59 L248.8,297.6 L249.3,297.61 L249.8,297.61 L250.3,297.62 L250.8,297.63 L251.3,297.63 L251.8,297.64 L252.3,297.64 L252.8,297.64 L253.3,297.65 L253.8,297.65 L254.3,297.66 L254.8,297.66 L255.3,297.66 L255.8,297.66 L256.3,297.67 L256.8,297.67 L257.3,297.67 L257.8,297.67 L258.3,297.68 L258.8,297.68 L259.3,297.68 L259.8,297.68 L260.3,297.68 L260.8,297.68 L261.3,297.68 L261.8,297.69 L262.3,297.69 L262.8,297.69 L263.3,297.69 L263.8,297.69 L264.3,297.69 L264.8,297.69 L265.3,297.69 L265.8,297.69 L266.3,297.69 L266.8,297.69 L267.3,297.69 L267.8,297.69 L268.3,297.69 L268.8,297.69 L269.3,297.7 L269.8,297.7 L270.3,297.7 L270.8,297.7 L271.3,297.7 L271.8,297.7 L272.3,297.7 L272.8,297.7 L273.3,297.7 L273.8,297.7 L274.3,297.7 L274.8,297.7 L275.3,297.7 L275.8,297.7 L276.3,297.7 L276.8,297.7 L277.3,297.7 L277.8,297.7 L278.3,297.7 L278.8,297.7 L279.3,297.7 L279.8,297.7 L280.3,297.7 L280.8,297.7 L281.3,297.7 L281.8,297.7 L282.3,297.7 L282.8,297.7 L283.3,297.7 L283.8,297.7 L284.3,297.7 L284.8,297.7 L285.3,297.7 L285.8,297.7 L286.3,297.7 L286.8,297.7 L287.3,297.7 L287.8,297.7 L288.3,297.7 L288.8,297.7 L289.3,297.7 L289.8,297.7 L290.3,297.7 L290.8,297.7 L291.3,297.7 L291.8,297.7 L292.3,297.7 L292.8,297.7 L293.3,297.7 L293.8,297.7 L294.3,297.7 L294.8,297.7 L295.3,297.7 L295.8,297.7 L296.3,297.7 L296.8,297.7 L297.3,297.7 L297.8,297.7 L298.3,297.7 L298.8,297.7 L299.3,297.7 L299.8,297.7 L300.3,297.7 L300.8,297.7 L301.3,297.7 L301.8,297.7 L302.3,297.7 L302.8,297.7 L303.3,297.7 L303.8,297.7 L304.3,297.7 L304.8,297.7 L305.3,297.7 L305.8,297.7 L306.3,297.7 L306.8,297.7 L307.3,297.7 L307.8,297.7 L308.3,297.7 L308.8,297.7 L309.3,297.7 L309.8,297.7 L310.3,297.7 L310.8,297.7 L311.3,297.7 L311.8,297.7 L312.3,297.7 L312.8,297.7 L313.3,297.7 L313.8,297.7 L314.3,297.7 L314.8,297.7 L315.3,297.7 L315.8,297.7 L316.3,297.7 L316.8,297.7 L317.3,297.7 L317.8,297.7 L318.3,297.7 L318.8,297.7 L319.3,297.7 L319.8,297.7 L320.3,297.7 L320.8,297.7 L321.3,297.7 L321.8,297.7 L322.3,297.7 L322.8,297.7 L323.3,297.7 L323.8,297.7 L324.3,297.7 L324.8,297.7 L325.3,297.7 L325.8,297.7 L326.3,297.7 L326.8,297.7 L327.3,297.7 L327.8,297.7 L328.3,297.7 L328.8,297.7 L329.3,297.7 L329.8,297.7 L330.3,297.7 L330.8,297.7 L331.3,297.7 L331.8,297.7 L332.3,297.7 L332.8,297.7 L333.3,297.7 L333.8,297.7 L334.3,297.7 L334.8,297.7 L335.3,297.7 L335.8,297.7 L336.3,297.7 L336.8,297.7 L337.3,297.7 L337.8,297.7 L338.3,297.7 L338.8,297.7 L339.3,297.7 L339.8,297.7 L340.3,297.7 L340.8,297.7 L341.3,297.7 L341.8,297.7" fill="none" stroke="#de6a55" stroke-width="4"/>
<path d="M58.3,297.7 L58.8,297.7 L59.3,297.7 L59.8,297.7 L60.3,297.7 L60.8,297.7 L61.3,297.7 L61.8,297.7 L62.3,297.7 L62.8,297.7 L63.3,297.7 L63.8,297.7 L64.3,297.7 L64.8,297.7 L65.3,297.7 L65.8,297.7 L66.3,297.7 L66.8,297.7 L67.3,297.7 L67.8,297.7 L68.3,297.7 L68.8,297.7 L69.3,297.7 L69.8,297.7 L70.3,297.7 L70.8,297.7 L71.3,297.7 L71.8,297.7 L72.3,297.7 L72.8,297.7 L73.3,297.7 L73.8,297.7 L74.3,297.7 L74.8,297.7 L75.3,297.7 L75.8,297.7 L76.3,297.7 L76.8,297.7 L77.3,297.7 L77.8,297.7 L78.3,297.7 L78.8,297.7 L79.3,297.7 L79.8,297.7 L80.3,297.7 L80.8,297.7 L81.3,297.7 L81.8,297.7 L82.3,297.7 L82.8,297.7 L83.3,297.7 L83.8,297.7 L84.3,297.7 L84.8,297.7 L85.3,297.7 L85.8,297.7 L86.3,297.7 L86.8,297.7 L87.3,297.7 L87.8,297.7 L88.3,297.7 L88.8,297.7 L89.3,297.7 L89.8,297.7 L90.3,297.7 L90.8,297.7 L91.3,297.7 L91.8,297.7 L92.3,297.7 L92.8,297.7 L93.3,297.7 L93.8,297.7 L94.3,297.7 L94.8,297.7 L95.3,297.7 L95.8,297.7 L96.3,297.7 L96.8,297.7 L97.3,297.7 L97.8,297.7 L98.3,297.7 L98.8,297.7 L99.3,297.7 L99.8,297.7 L100.3,297.7 L100.8,297.7 L101.3,297.7 L101.8,297.7 L102.3,297.7 L102.8,297.7 L103.3,297.7 L103.8,297.7 L104.3,297.7 L104.8,297.7 L105.3,297.7 L105.8,297.7 L106.3,297.7 L106.8,297.7 L107.3,297.7 L107.8,297.7 L108.3,297.7 L108.8,297.7 L109.3,297.7 L109.8,297.7 L110.3,297.7 L110.8,297.7 L111.3,297.7 L111.8,297.7 L112.3,297.7 L112.8,297.7 L113.3,297.7 L113.8,297.7 L114.3,297.7 L114.8,297.7 L115.3,297.7 L115.8,297.7 L116.3,297.7 L116.8,297.7 L117.3,297.7 L117.8,297.7 L118.3,297.7 L118.8,297.7 L119.3,297.7 L119.8,297.7 L120.3,297.7 L120.8,297.7 L121.3,297.7 L121.8,297.7 L122.3,297.7 L122.8,297.7 L123.3,297.7 L123.8,297.7 L124.3,297.7 L124.8,297.7 L125.3,297.7 L125.8,297.7 L126.3,297.7 L126.8,297.7 L127.3,297.7 L127.8,297.7 L128.3,297.7 L128.8,297.7 L129.3,297.7 L129.8,297.7 L130.3,297.7 L130.8,297.7 L131.3,297.7 L131.8,297.7 L132.3,297.7 L132.8,297.71 L133.3,297.71 L133.8,297.71 L134.3,297.71 L134.8,297.71 L135.3,297.71 L135.8,297.71 L136.3,297.72 L136.8,297.72 L137.3,297.72 L137.8,297.73 L138.3,297.73 L138.8,297.73 L139.3,297.74 L139.8,297.75 L140.3,297.75 L140.8,297.76 L141.3,297.77 L141.8,297.78 L142.3,297.79 L142.8,297.8 L143.3,297.81 L143.8,297.83 L144.3,297.85 L144.8,297.87 L145.3,297.89 L145.8,297.91 L146.3,297.94 L146.8,297.97 L147.3,298 L147.8,298.04 L148.3,298.08 L148.8,298.12 L149.3,298.17 L149.8,298.23 L150.3,298.28 L150.8,298.35 L151.3,298.42 L151.8,298.49 L152.3,298.58 L152.8,298.67 L153.3,298.77 L153.8,298.87 L154.3,298.99 L154.8,299.11 L155.3,299.24 L155.8,299.39 L156.3,299.54 L156.8,299.71 L157.3,299.88 L157.8,300.07 L158.3,300.27 L158.8,300.49 L159.3,300.72 L159.8,300.96 L160.3,301.22 L160.8,301.49 L161.3,301.78 L161.8,302.08 L162.3,302.4 L162.8,302.73 L163.3,303.08 L163.8,303.45 L164.3,303.84 L164.8,304.24 L165.3,304.66 L165.8,305.1 L166.3,305.55 L166.8,306.02 L167.3,306.51 L167.8,307.02 L168.3,307.54 L168.8,308.08 L169.3,308.63 L169.8,309.2 L170.3,309.78 L170.8,310.38 L171.3,310.99 L171.8,311.61 L172.3,312.25 L172.8,312.9 L173.3,313.55 L173.8,314.22 L174.3,314.89 L174.8,315.58 L175.3,316.26 L175.8,316.96 L176.3,317.66 L176.8,318.36 L177.3,319.06 L177.8,319.76 L178.3,320.46 L178.8,321.16 L179.3,321.85 L179.8,322.54 L180.3,323.23 L180.8,323.9 L181.3,324.57 L181.8,325.23 L182.3,325.88 L182.8,326.52 L183.3,327.14 L183.8,327.75 L184.3,328.34 L184.8,328.92 L185.3,329.48 L185.8,330.02 L186.3,330.55 L186.8,331.05 L187.3,331.54 L187.8,332 L188.3,332.45 L188.8,332.87 L189.3,333.27 L189.8,333.65 L190.3,334 L190.8,334.34 L191.3,334.65 L191.8,334.94 L192.3,335.2 L192.8,335.45 L193.3,335.67 L193.8,335.87 L194.3,336.06 L194.8,336.22 L195.3,336.36 L195.8,336.48 L196.3,336.59 L196.8,336.67 L197.3,336.74 L197.8,336.8 L198.3,336.84 L198.8,336.87 L199.3,336.89 L199.8,336.9 L200.3,336.9 L200.8,336.9 L201.3,336.89 L201.8,336.88 L202.3,336.85 L202.8,336.82 L203.3,336.77 L203.8,336.7 L204.3,336.62 L204.8,336.52 L205.3,336.41 L205.8,336.28 L206.3,336.12 L206.8,335.95 L207.3,335.76 L207.8,335.54 L208.3,335.31 L208.8,335.05 L209.3,334.77 L209.8,334.46 L210.3,334.14 L210.8,333.79 L211.3,333.42 L211.8,333.03 L212.3,332.62 L212.8,332.18 L213.3,331.73 L213.8,331.25 L214.3,330.75 L214.8,330.24 L215.3,329.7 L215.8,329.15 L216.3,328.58 L216.8,327.99 L217.3,327.39 L217.8,326.77 L218.3,326.14 L218.8,325.49 L219.3,324.84 L219.8,324.17 L220.3,323.5 L220.8,322.82 L221.3,322.13 L221.8,321.44 L222.3,320.74 L222.8,320.04 L223.3,319.34 L223.8,318.64 L224.3,317.94 L224.8,317.24 L225.3,316.54 L225.8,315.85 L226.3,315.17 L226.8,314.49 L227.3,313.82 L227.8,313.16 L228.3,312.51 L228.8,311.87 L229.3,311.24 L229.8,310.62 L230.3,310.02 L230.8,309.43 L231.3,308.85 L231.8,308.3 L232.3,307.75 L232.8,307.22 L233.3,306.71 L233.8,306.22 L234.3,305.74 L234.8,305.28 L235.3,304.83 L235.8,304.41 L236.3,304 L236.8,303.6 L237.3,303.23 L237.8,302.87 L238.3,302.53 L238.8,302.2 L239.3,301.89 L239.8,301.6 L240.3,301.32 L240.8,301.06 L241.3,300.81 L241.8,300.58 L242.3,300.36 L242.8,300.15 L243.3,299.96 L243.8,299.78 L244.3,299.61 L244.8,299.45 L245.3,299.3 L245.8,299.16 L246.3,299.03 L246.8,298.92 L247.3,298.81 L247.8,298.71 L248.3,298.61 L248.8,298.53 L249.3,298.45 L249.8,298.38 L250.3,298.31 L250.8,298.25 L251.3,298.19 L251.8,298.14 L252.3,298.1 L252.8,298.05 L253.3,298.02 L253.8,297.98 L254.3,297.95 L254.8,297.92 L255.3,297.9 L255.8,297.88 L256.3,297.86 L256.8,297.84 L257.3,297.82 L257.8,297.81 L258.3,297.79 L258.8,297.78 L259.3,297.77 L259.8,297.76 L260.3,297.75 L260.8,297.75 L261.3,297.74 L261.8,297.74 L262.3,297.73 L262.8,297.73 L263.3,297.72 L263.8,297.72 L264.3,297.72 L264.8,297.71 L265.3,297.71 L265.8,297.71 L266.3,297.71 L266.8,297.71 L267.3,297.71 L267.8,297.71 L268.3,297.7 L268.8,297.7 L269.3,297.7 L269.8,297.7 L270.3,297.7 L270.8,297.7 L271.3,297.7 L271.8,297.7 L272.3,297.7 L272.8,297.7 L273.3,297.7 L273.8,297.7 L274.3,297.7 L274.8,297.7 L275.3,297.7 L275.8,297.7 L276.3,297.7 L276.8,297.7 L277.3,297.7 L277.8,297.7 L278.3,297.7 L278.8,297.7 L279.3,297.7 L279.8,297.7 L280.3,297.7 L280.8,297.7 L281.3,297.7 L281.8,297.7 L282.3,297.7 L282.8,297.7 L283.3,297.7 L283.8,297.7 L284.3,297.7 L284.8,297.7 L285.3,297.7 L285.8,297.7 L286.3,297.7 L286.8,297.7 L287.3,297.7 L287.8,297.7 L288.3,297.7 L288.8,297.7 L289.3,297.7 L289.8,297.7 L290.3,297.7 L290.8,297.7 L291.3,297.7 L291.8,297.7 L292.3,297.7 L292.8,297.7 L293.3,297.7 L293.8,297.7 L294.3,297.7 L294.8,297.7 L295.3,297.7 L295.8,297.7 L296.3,297.7 L296.8,297.7 L297.3,297.7 L297.8,297.7 L298.3,297.7 L298.8,297.7 L299.3,297.7 L299.8,297.7 L300.3,297.7 L300.8,297.7 L301.3,297.7 L301.8,297.7 L302.3,297.7 L302.8,297.7 L303.3,297.7 L303.8,297.7 L304.3,297.7 L304.8,297.7 L305.3,297.7 L305.8,297.7 L306.3,297.7 L306.8,297.7 L307.3,297.7 L307.8,297.7 L308.3,297.7 L308.8,297.7 L309.3,297.7 L309.8,297.7 L310.3,297.7 L310.8,297.7 L311.3,297.7 L311.8,297.7 L312.3,297.7 L312.8,297.7 L313.3,297.7 L313.8,297.7 L314.3,297.7 L314.8,297.7 L315.3,297.7 L315.8,297.7 L316.3,297.7 L316.8,297.7 L317.3,297.7 L317.8,297.7 L318.3,297.7 L318.8,297.7 L319.3,297.7 L319.8,297.7 L320.3,297.7 L320.8,297.7 L321.3,297.7 L321.8,297.7 L322.3,297.7 L322.8,297.7 L323.3,297.7 L323.8,297.7 L324.3,297.7 L324.8,297.7 L325.3,297.7 L325.8,297.7 L326.3,297.7 L326.8,297.7 L327.3,297.7 L327.8,297.7 L328.3,297.7 L328.8,297.7 L329.3,297.7 L329.8,297.7 L330.3,297.7 L330.8,297.7 L331.3,297.7 L331.8,297.7 L332.3,297.7 L332.8,297.7 L333.3,297.7 L333.8,297.7 L334.3,297.7 L334.8,297.7 L335.3,297.7 L335.8,297.7 L336.3,297.7 L336.8,297.7 L337.3,297.7 L337.8,297.7 L338.3,297.7 L338.8,297.7 L339.3,297.7 L339.8,297.7 L340.3,297.7 L340.8,297.7 L341.3,297.7 L341.8,297.7" fill="none" stroke="#058d7c" stroke-width="4"/>
<path d="M398.7,296.6 L399.2,296.6 L399.7,296.6 L400.2,296.6 L400.7,296.6 L401.2,296.6 L401.7,296.6 L402.2,296.6 L402.7,296.6 L403.2,296.6 L403.7,296.6 L404.2,296.6 L404.7,296.6 L405.2,296.6 L405.7,296.6 L406.2,296.6 L406.7,296.6 L407.2,296.6 L407.7,296.6 L408.2,296.6 L408.7,296.6 L409.2,296.6 L409.7,296.6 L410.2,296.6 L410.7,296.6 L411.2,296.6 L411.7,296.6 L412.2,296.6 L412.7,296.6 L413.2,296.6 L413.7,296.6 L414.2,296.6 L414.7,296.6 L415.2,296.6 L415.7,296.6 L416.2,296.6 L416.7,296.6 L417.2,296.6 L417.7,296.6 L418.2,296.6 L418.7,296.6 L419.2,296.6 L419.7,296.6 L420.2,296.6 L420.7,296.6 L421.2,296.6 L421.7,296.6 L422.2,296.6 L422.7,296.6 L423.2,296.6 L423.7,296.6 L424.2,296.6 L424.7,296.6 L425.2,296.6 L425.7,296.6 L426.2,296.6 L426.7,296.6 L427.2,296.6 L427.7,296.6 L428.2,296.6 L428.7,296.6 L429.2,296.6 L429.7,296.6 L430.2,296.6 L430.7,296.6 L431.2,296.6 L431.7,296.6 L432.2,296.6 L432.7,296.6 L433.2,296.6 L433.7,296.6 L434.2,296.6 L434.7,296.6 L435.2,296.6 L435.7,296.6 L436.2,296.6 L436.7,296.6 L437.2,296.6 L437.7,296.6 L438.2,296.6 L438.7,296.6 L439.2,296.6 L439.7,296.59 L440.2,296.59 L440.7,296.59 L441.2,296.59 L441.7,296.59 L442.2,296.59 L442.7,296.59 L443.2,296.59 L443.7,296.59 L444.2,296.59 L444.7,296.59 L445.2,296.59 L445.7,296.59 L446.2,296.59 L446.7,296.59 L447.2,296.58 L447.7,296.58 L448.2,296.58 L448.7,296.58 L449.2,296.58 L449.7,296.58 L450.2,296.58 L450.7,296.57 L451.2,296.57 L451.7,296.57 L452.2,296.57 L452.7,296.56 L453.2,296.56 L453.7,296.56 L454.2,296.56 L454.7,296.55 L455.2,296.55 L455.7,296.54 L456.2,296.54 L456.7,296.54 L457.2,296.53 L457.7,296.53 L458.2,296.52 L458.7,296.51 L459.2,296.51 L459.7,296.5 L460.2,296.49 L460.7,296.48 L461.2,296.47 L461.7,296.47 L462.2,296.46 L462.7,296.44 L463.2,296.43 L463.7,296.42 L464.2,296.41 L464.7,296.39 L465.2,296.38 L465.7,296.36 L466.2,296.34 L466.7,296.32 L467.2,296.3 L467.7,296.28 L468.2,296.25 L468.7,296.23 L469.2,296.2 L469.7,296.17 L470.2,296.14 L470.7,296.1 L471.2,296.06 L471.7,296.02 L472.2,295.98 L472.7,295.94 L473.2,295.89 L473.7,295.83 L474.2,295.77 L474.7,295.71 L475.2,295.65 L475.7,295.58 L476.2,295.5 L476.7,295.42 L477.2,295.33 L477.7,295.24 L478.2,295.13 L478.7,295.03 L479.2,294.91 L479.7,294.78 L480.2,294.65 L480.7,294.51 L481.2,294.35 L481.7,294.19 L482.2,294.01 L482.7,293.82 L483.2,293.62 L483.7,293.4 L484.2,293.17 L484.7,292.93 L485.2,292.66 L485.7,292.38 L486.2,292.07 L486.7,291.75 L487.2,291.41 L487.7,291.04 L488.2,290.65 L488.7,290.23 L489.2,289.78 L489.7,289.31 L490.2,288.81 L490.7,288.27 L491.2,287.7 L491.7,287.1 L492.2,286.46 L492.7,285.78 L493.2,285.06 L493.7,284.3 L494.2,283.5 L494.7,282.65 L495.2,281.76 L495.7,280.82 L496.2,279.83 L496.7,278.8 L497.2,277.71 L497.7,276.57 L498.2,275.38 L498.7,274.14 L499.2,272.85 L499.7,271.5 L500.2,270.11 L500.7,268.66 L501.2,267.16 L501.7,265.62 L502.2,264.03 L502.7,262.4 L503.2,260.72 L503.7,259.01 L504.2,257.26 L504.7,255.48 L505.2,253.67 L505.7,251.83 L506.2,249.98 L506.7,248.11 L507.2,246.23 L507.7,244.34 L508.2,242.45 L508.7,240.56 L509.2,238.68 L509.7,236.82 L510.2,234.97 L510.7,233.14 L511.2,231.34 L511.7,229.56 L512.2,227.82 L512.7,226.12 L513.2,224.45 L513.7,222.83 L514.2,221.25 L514.7,219.72 L515.2,218.23 L515.7,216.8 L516.2,215.41 L516.7,214.07 L517.2,212.79 L517.7,211.56 L518.2,210.38 L518.7,209.24 L519.2,208.16 L519.7,207.13 L520.2,206.15 L520.7,205.21 L521.2,204.32 L521.7,203.48 L522.2,202.68 L522.7,201.92 L523.2,201.2 L523.7,200.52 L524.2,199.88 L524.7,199.27 L525.2,198.7 L525.7,198.16 L526.2,197.65 L526.7,197.17 L527.2,196.72 L527.7,196.29 L528.2,195.89 L528.7,195.52 L529.2,195.17 L529.7,194.84 L530.2,194.53 L530.7,194.24 L531.2,193.96 L531.7,193.71 L532.2,193.47 L532.7,193.24 L533.2,193.03 L533.7,192.84 L534.2,192.65 L534.7,192.48 L535.2,192.32 L535.7,192.17 L536.2,192.03 L536.7,191.89 L537.2,191.77 L537.7,191.65 L538.2,191.55 L538.7,191.45 L539.2,191.35 L539.7,191.26 L540.2,191.18 L540.7,191.11 L541.2,191.04 L541.7,191.02 L542.2,191.09 L542.7,191.17 L543.2,191.25 L543.7,191.33 L544.2,191.43 L544.7,191.53 L545.2,191.63 L545.7,191.75 L546.2,191.87 L546.7,192 L547.2,192.14 L547.7,192.29 L548.2,192.45 L548.7,192.62 L549.2,192.8 L549.7,192.99 L550.2,193.2 L550.7,193.42 L551.2,193.66 L551.7,193.91 L552.2,194.18 L552.7,194.47 L553.2,194.77 L553.7,195.1 L554.2,195.45 L554.7,195.82 L555.2,196.21 L555.7,196.63 L556.2,197.08 L556.7,197.55 L557.2,198.05 L557.7,198.59 L558.2,199.15 L558.7,199.75 L559.2,200.39 L559.7,201.06 L560.2,201.77 L560.7,202.52 L561.2,203.32 L561.7,204.15 L562.2,205.03 L562.7,205.96 L563.2,206.93 L563.7,207.95 L564.2,209.02 L564.7,210.15 L565.2,211.32 L565.7,212.54 L566.2,213.81 L566.7,215.14 L567.2,216.51 L567.7,217.94 L568.2,219.42 L568.7,220.94 L569.2,222.51 L569.7,224.13 L570.2,225.78 L570.7,227.48 L571.2,229.21 L571.7,230.98 L572.2,232.78 L572.7,234.6 L573.2,236.45 L573.7,238.31 L574.2,240.19 L574.7,242.07 L575.2,243.96 L575.7,245.85 L576.2,247.73 L576.7,249.6 L577.2,251.46 L577.7,253.3 L578.2,255.12 L578.7,256.9 L579.2,258.66 L579.7,260.38 L580.2,262.07 L580.7,263.71 L581.2,265.31 L581.7,266.86 L582.2,268.36 L582.7,269.82 L583.2,271.23 L583.7,272.58 L584.2,273.89 L584.7,275.14 L585.2,276.34 L585.7,277.49 L586.2,278.58 L586.7,279.63 L587.2,280.63 L587.7,281.58 L588.2,282.48 L588.7,283.33 L589.2,284.14 L589.7,284.91 L590.2,285.64 L590.7,286.32 L591.2,286.97 L591.7,287.58 L592.2,288.16 L592.7,288.7 L593.2,289.21 L593.7,289.69 L594.2,290.14 L594.7,290.57 L595.2,290.96 L595.7,291.34 L596.2,291.68 L596.7,292.01 L597.2,292.32 L597.7,292.61 L598.2,292.87 L598.7,293.12 L599.2,293.36 L599.7,293.58 L600.2,293.78 L600.7,293.98 L601.2,294.15 L601.7,294.32 L602.2,294.48 L602.7,294.62 L603.2,294.76 L603.7,294.88 L604.2,295 L604.7,295.11 L605.2,295.22 L605.7,295.31 L606.2,295.4 L606.7,295.48 L607.2,295.56 L607.7,295.63 L608.2,295.7 L608.7,295.76 L609.2,295.82 L609.7,295.87 L610.2,295.93 L610.7,295.97 L611.2,296.02 L611.7,296.06 L612.2,296.09 L612.7,296.13 L613.2,296.16 L613.7,296.19 L614.2,296.22 L614.7,296.25 L615.2,296.27 L615.7,296.3 L616.2,296.32 L616.7,296.34 L617.2,296.36 L617.7,296.37 L618.2,296.39 L618.7,296.4 L619.2,296.42 L619.7,296.43 L620.2,296.44 L620.7,296.45 L621.2,296.46 L621.7,296.47 L622.2,296.48 L622.7,296.49 L623.2,296.5 L623.7,296.51 L624.2,296.51 L624.7,296.52 L625.2,296.52 L625.7,296.53 L626.2,296.53 L626.7,296.54 L627.2,296.54 L627.7,296.55 L628.2,296.55 L628.7,296.55 L629.2,296.56 L629.7,296.56 L630.2,296.56 L630.7,296.57 L631.2,296.57 L631.7,296.57 L632.2,296.57 L632.7,296.57 L633.2,296.58 L633.7,296.58 L634.2,296.58 L634.7,296.58 L635.2,296.58 L635.7,296.58 L636.2,296.58 L636.7,296.59 L637.2,296.59 L637.7,296.59 L638.2,296.59 L638.7,296.59 L639.2,296.59 L639.7,296.59 L640.2,296.59 L640.7,296.59 L641.2,296.59 L641.7,296.59 L642.2,296.59 L642.7,296.59 L643.2,296.59 L643.7,296.59 L644.2,296.6 L644.7,296.6 L645.2,296.6 L645.7,296.6 L646.2,296.6 L646.7,296.6 L647.2,296.6 L647.7,296.6 L648.2,296.6 L648.7,296.6 L649.2,296.6 L649.7,296.6 L650.2,296.6 L650.7,296.6 L651.2,296.6 L651.7,296.6 L652.2,296.6 L652.7,296.6 L653.2,296.6 L653.7,296.6 L654.2,296.6 L654.7,296.6 L655.2,296.6 L655.7,296.6 L656.2,296.6 L656.7,296.6 L657.2,296.6 L657.7,296.6 L658.2,296.6 L658.7,296.6 L659.2,296.6 L659.7,296.6 L660.2,296.6 L660.7,296.6 L661.2,296.6 L661.7,296.6 L662.2,296.6 L662.7,296.6 L663.2,296.6 L663.7,296.6 L664.2,296.6 L664.7,296.6 L665.2,296.6 L665.7,296.6 L666.2,296.6 L666.7,296.6 L667.2,296.6 L667.7,296.6 L668.2,296.6 L668.7,296.6 L669.2,296.6 L669.7,296.6 L670.2,296.6 L670.7,296.6 L671.2,296.6 L671.7,296.6 L672.2,296.6 L672.7,296.6 L673.2,296.6 L673.7,296.6 L674.2,296.6 L674.7,296.6 L675.2,296.6 L675.7,296.6 L676.2,296.6 L676.7,296.6 L677.2,296.6 L677.7,296.6 L678.2,296.6 L678.7,296.6 L679.2,296.6 L679.7,296.6 L680.2,296.6 L680.7,296.6 L681.2,296.6 L681.7,296.6 L682.2,296.6" fill="none" stroke="#de6a55" stroke-width="4"/>
<path d="M398.7,296.6 L399.2,296.6 L399.7,296.6 L400.2,296.6 L400.7,296.6 L401.2,296.6 L401.7,296.6 L402.2,296.6 L402.7,296.6 L403.2,296.6 L403.7,296.6 L404.2,296.6 L404.7,296.6 L405.2,296.6 L405.7,296.6 L406.2,296.6 L406.7,296.6 L407.2,296.6 L407.7,296.6 L408.2,296.6 L408.7,296.6 L409.2,296.6 L409.7,296.6 L410.2,296.6 L410.7,296.6 L411.2,296.6 L411.7,296.6 L412.2,296.6 L412.7,296.6 L413.2,296.6 L413.7,296.6 L414.2,296.6 L414.7,296.6 L415.2,296.6 L415.7,296.6 L416.2,296.6 L416.7,296.6 L417.2,296.6 L417.7,296.6 L418.2,296.6 L418.7,296.6 L419.2,296.6 L419.7,296.6 L420.2,296.6 L420.7,296.6 L421.2,296.6 L421.7,296.6 L422.2,296.6 L422.7,296.6 L423.2,296.6 L423.7,296.6 L424.2,296.6 L424.7,296.6 L425.2,296.6 L425.7,296.6 L426.2,296.6 L426.7,296.6 L427.2,296.6 L427.7,296.6 L428.2,296.6 L428.7,296.6 L429.2,296.6 L429.7,296.6 L430.2,296.6 L430.7,296.6 L431.2,296.6 L431.7,296.6 L432.2,296.6 L432.7,296.6 L433.2,296.6 L433.7,296.6 L434.2,296.6 L434.7,296.6 L435.2,296.6 L435.7,296.6 L436.2,296.6 L436.7,296.6 L437.2,296.6 L437.7,296.6 L438.2,296.6 L438.7,296.6 L439.2,296.6 L439.7,296.6 L440.2,296.6 L440.7,296.6 L441.2,296.61 L441.7,296.61 L442.2,296.61 L442.7,296.61 L443.2,296.61 L443.7,296.61 L444.2,296.61 L444.7,296.62 L445.2,296.62 L445.7,296.62 L446.2,296.63 L446.7,296.63 L447.2,296.64 L447.7,296.64 L448.2,296.65 L448.7,296.65 L449.2,296.66 L449.7,296.67 L450.2,296.68 L450.7,296.69 L451.2,296.71 L451.7,296.72 L452.2,296.74 L452.7,296.76 L453.2,296.78 L453.7,296.8 L454.2,296.82 L454.7,296.85 L455.2,296.88 L455.7,296.92 L456.2,296.95 L456.7,297 L457.2,297.04 L457.7,297.09 L458.2,297.15 L458.7,297.21 L459.2,297.28 L459.7,297.35 L460.2,297.43 L460.7,297.51 L461.2,297.61 L461.7,297.71 L462.2,297.82 L462.7,297.93 L463.2,298.06 L463.7,298.2 L464.2,298.35 L464.7,298.51 L465.2,298.68 L465.7,298.86 L466.2,299.05 L466.7,299.26 L467.2,299.48 L467.7,299.71 L468.2,299.96 L468.7,300.22 L469.2,300.5 L469.7,300.79 L470.2,301.1 L470.7,301.43 L471.2,301.77 L471.7,302.13 L472.2,302.5 L472.7,302.9 L473.2,303.31 L473.7,303.73 L474.2,304.18 L474.7,304.64 L475.2,305.12 L475.7,305.61 L476.2,306.12 L476.7,306.65 L477.2,307.2 L477.7,307.75 L478.2,308.33 L478.7,308.92 L479.2,309.52 L479.7,310.14 L480.2,310.77 L480.7,311.41 L481.2,312.06 L481.7,312.72 L482.2,313.39 L482.7,314.07 L483.2,314.75 L483.7,315.44 L484.2,316.14 L484.7,316.84 L485.2,317.54 L485.7,318.24 L486.2,318.94 L486.7,319.64 L487.2,320.34 L487.7,321.03 L488.2,321.72 L488.7,322.4 L489.2,323.07 L489.7,323.74 L490.2,324.39 L490.7,325.04 L491.2,325.67 L491.7,326.29 L492.2,326.89 L492.7,327.48 L493.2,328.05 L493.7,328.6 L494.2,329.14 L494.7,329.65 L495.2,330.15 L495.7,330.63 L496.2,331.08 L496.7,331.52 L497.2,331.93 L497.7,332.32 L498.2,332.69 L498.7,333.04 L499.2,333.36 L499.7,333.67 L500.2,333.95 L500.7,334.21 L501.2,334.44 L501.7,334.66 L502.2,334.85 L502.7,335.02 L503.2,335.18 L503.7,335.31 L504.2,335.42 L504.7,335.52 L505.2,335.6 L505.7,335.67 L506.2,335.72 L506.7,335.75 L507.2,335.78 L507.7,335.79 L508.2,335.8 L508.7,335.8 L509.2,335.8 L509.7,335.79 L510.2,335.77 L510.7,335.74 L511.2,335.7 L511.7,335.64 L512.2,335.57 L512.7,335.49 L513.2,335.38 L513.7,335.26 L514.2,335.12 L514.7,334.96 L515.2,334.77 L515.7,334.57 L516.2,334.35 L516.7,334.1 L517.2,333.84 L517.7,333.55 L518.2,333.24 L518.7,332.9 L519.2,332.55 L519.7,332.17 L520.2,331.77 L520.7,331.35 L521.2,330.9 L521.7,330.44 L522.2,329.95 L522.7,329.45 L523.2,328.92 L523.7,328.38 L524.2,327.82 L524.7,327.24 L525.2,326.65 L525.7,326.04 L526.2,325.42 L526.7,324.78 L527.2,324.13 L527.7,323.47 L528.2,322.8 L528.7,322.13 L529.2,321.44 L529.7,320.75 L530.2,320.06 L530.7,319.36 L531.2,318.66 L531.7,317.96 L532.2,317.26 L532.7,316.56 L533.2,315.86 L533.7,315.16 L534.2,314.48 L534.7,313.79 L535.2,313.12 L535.7,312.45 L536.2,311.8 L536.7,311.15 L537.2,310.51 L537.7,309.89 L538.2,309.28 L538.7,308.68 L539.2,308.1 L539.7,307.53 L540.2,306.98 L540.7,306.44 L541.2,305.92 L541.7,305.41 L542.2,304.92 L542.7,304.45 L543.2,304 L543.7,303.56 L544.2,303.14 L544.7,302.74 L545.2,302.35 L545.7,301.98 L546.2,301.63 L546.7,301.3 L547.2,300.98 L547.7,300.68 L548.2,300.39 L548.7,300.12 L549.2,299.86 L549.7,299.62 L550.2,299.39 L550.7,299.17 L551.2,298.97 L551.7,298.78 L552.2,298.61 L552.7,298.44 L553.2,298.29 L553.7,298.14 L554.2,298.01 L554.7,297.89 L555.2,297.77 L555.7,297.67 L556.2,297.57 L556.7,297.48 L557.2,297.39 L557.7,297.32 L558.2,297.25 L558.7,297.18 L559.2,297.13 L559.7,297.07 L560.2,297.02 L560.7,296.98 L561.2,296.94 L561.7,296.9 L562.2,296.87 L562.7,296.84 L563.2,296.81 L563.7,296.79 L564.2,296.77 L564.7,296.75 L565.2,296.73 L565.7,296.71 L566.2,296.7 L566.7,296.69 L567.2,296.68 L567.7,296.67 L568.2,296.66 L568.7,296.65 L569.2,296.65 L569.7,296.64 L570.2,296.63 L570.7,296.63 L571.2,296.63 L571.7,296.62 L572.2,296.62 L572.7,296.62 L573.2,296.61 L573.7,296.61 L574.2,296.61 L574.7,296.61 L575.2,296.61 L575.7,296.61 L576.2,296.61 L576.7,296.6 L577.2,296.6 L577.7,296.6 L578.2,296.6 L578.7,296.6 L579.2,296.6 L579.7,296.6 L580.2,296.6 L580.7,296.6 L581.2,296.6 L581.7,296.6 L582.2,296.6 L582.7,296.6 L583.2,296.6 L583.7,296.6 L584.2,296.6 L584.7,296.6 L585.2,296.6 L585.7,296.6 L586.2,296.6 L586.7,296.6 L587.2,296.6 L587.7,296.6 L588.2,296.6 L588.7,296.6 L589.2,296.6 L589.7,296.6 L590.2,296.6 L590.7,296.6 L591.2,296.6 L591.7,296.6 L592.2,296.6 L592.7,296.6 L593.2,296.6 L593.7,296.6 L594.2,296.6 L594.7,296.6 L595.2,296.6 L595.7,296.6 L596.2,296.6 L596.7,296.6 L597.2,296.6 L597.7,296.6 L598.2,296.6 L598.7,296.6 L599.2,296.6 L599.7,296.6 L600.2,296.6 L600.7,296.6 L601.2,296.6 L601.7,296.6 L602.2,296.6 L602.7,296.6 L603.2,296.6 L603.7,296.6 L604.2,296.6 L604.7,296.6 L605.2,296.6 L605.7,296.6 L606.2,296.6 L606.7,296.6 L607.2,296.6 L607.7,296.6 L608.2,296.6 L608.7,296.6 L609.2,296.6 L609.7,296.6 L610.2,296.6 L610.7,296.6 L611.2,296.6 L611.7,296.6 L612.2,296.6 L612.7,296.6 L613.2,296.6 L613.7,296.6 L614.2,296.6 L614.7,296.6 L615.2,296.6 L615.7,296.6 L616.2,296.6 L616.7,296.6 L617.2,296.6 L617.7,296.6 L618.2,296.6 L618.7,296.6 L619.2,296.6 L619.7,296.6 L620.2,296.6 L620.7,296.6 L621.2,296.6 L621.7,296.6 L622.2,296.6 L622.7,296.6 L623.2,296.6 L623.7,296.6 L624.2,296.6 L624.7,296.6 L625.2,296.6 L625.7,296.6 L626.2,296.6 L626.7,296.6 L627.2,296.6 L627.7,296.6 L628.2,296.6 L628.7,296.6 L629.2,296.6 L629.7,296.6 L630.2,296.6 L630.7,296.6 L631.2,296.6 L631.7,296.6 L632.2,296.6 L632.7,296.6 L633.2,296.6 L633.7,296.6 L634.2,296.6 L634.7,296.6 L635.2,296.6 L635.7,296.6 L636.2,296.6 L636.7,296.6 L637.2,296.6 L637.7,296.6 L638.2,296.6 L638.7,296.6 L639.2,296.6 L639.7,296.6 L640.2,296.6 L640.7,296.6 L641.2,296.6 L641.7,296.6 L642.2,296.6 L642.7,296.6 L643.2,296.6 L643.7,296.6 L644.2,296.6 L644.7,296.6 L645.2,296.6 L645.7,296.6 L646.2,296.6 L646.7,296.6 L647.2,296.6 L647.7,296.6 L648.2,296.6 L648.7,296.6 L649.2,296.6 L649.7,296.6 L650.2,296.6 L650.7,296.6 L651.2,296.6 L651.7,296.6 L652.2,296.6 L652.7,296.6 L653.2,296.6 L653.7,296.6 L654.2,296.6 L654.7,296.6 L655.2,296.6 L655.7,296.6 L656.2,296.6 L656.7,296.6 L657.2,296.6 L657.7,296.6 L658.2,296.6 L658.7,296.6 L659.2,296.6 L659.7,296.6 L660.2,296.6 L660.7,296.6 L661.2,296.6 L661.7,296.6 L662.2,296.6 L662.7,296.6 L663.2,296.6 L663.7,296.6 L664.2,296.6 L664.7,296.6 L665.2,296.6 L665.7,296.6 L666.2,296.6 L666.7,296.6 L667.2,296.6 L667.7,296.6 L668.2,296.6 L668.7,296.6 L669.2,296.6 L669.7,296.6 L670.2,296.6 L670.7,296.6 L671.2,296.6 L671.7,296.6 L672.2,296.6 L672.7,296.6 L673.2,296.6 L673.7,296.6 L674.2,296.6 L674.7,296.6 L675.2,296.6 L675.7,296.6 L676.2,296.6 L676.7,296.6 L677.2,296.6 L677.7,296.6 L678.2,296.6 L678.7,296.6 L679.2,296.6 L679.7,296.6 L680.2,296.6 L680.7,296.6 L681.2,296.6 L681.7,296.6 L682.2,296.6" fill="none" stroke="#058d7c" stroke-width="4"/>
<line x1="253" y1="209" x2="296.1" y2="209" stroke="#de6a55" stroke-width="4"/>
<line x1="253" y1="235" x2="296.1" y2="235" stroke="#058d7c" stroke-width="4"/>
<text x="303.57" y="212.6" font-size="14" style='font-family:"Liberation Serif"' fill="#231f20">Δ</text><text x="313.35" y="212.6" font-size="15" style='font-family:"Liberation Sans"' font-style="italic" fill="#231f20">n</text><text x="322.08" y="216.7" font-size="10.5" style='font-family:"Liberation Sans"' fill="#231f20">A</text>
<text x="303.57" y="238.6" font-size="14" style='font-family:"Liberation Serif"' fill="#231f20">Δ</text><text x="313.35" y="238.6" font-size="15" style='font-family:"Liberation Sans"' font-style="italic" fill="#231f20">n</text><text x="321.54" y="242.2" font-size="10.5" style='font-family:"Liberation Sans"' fill="#231f20">B</text>
<text x="79.67" y="241.6" font-size="14" style='font-family:"Liberation Serif"' fill="#231f20">Δ</text><text x="90.45" y="241.6" font-size="15" style='font-family:"Liberation Sans"' font-style="italic" fill="#231f20">n</text>
<line x1="593" y1="207.1" x2="636.8" y2="207.1" stroke="#de6a55" stroke-width="4.2"/>
<line x1="593" y1="233" x2="636.8" y2="233" stroke="#058d7c" stroke-width="4.2"/>
<text x="642.17" y="210.1" font-size="14" style='font-family:"Liberation Serif"' fill="#231f20">Δ</text><text x="651.95" y="210.1" font-size="15" style='font-family:"Liberation Sans"' font-style="italic" fill="#231f20">n</text><text x="660.88" y="214.5" font-size="10.5" style='font-family:"Liberation Sans"' fill="#231f20">A</text>
<text x="642.17" y="236.4" font-size="14" style='font-family:"Liberation Serif"' fill="#231f20">Δ</text><text x="651.95" y="236.4" font-size="15" style='font-family:"Liberation Sans"' font-style="italic" fill="#231f20">n</text><text x="660.34" y="240.1" font-size="10.5" style='font-family:"Liberation Sans"' fill="#231f20">B</text>
<text x="424.47" y="240.4" font-size="14" style='font-family:"Liberation Serif"' fill="#231f20">Δ</text><text x="435.25" y="240.4" font-size="15" style='font-family:"Liberation Sans"' font-style="italic" fill="#231f20">n</text>
<rect x="59" y="379.6" width="312.2" height="256.9" fill="#f0f5ef"/>
<rect x="371.2" y="379.6" width="312.3" height="256.9" fill="#eff3f9"/>
<rect x="59" y="379.6" width="624.5" height="256.9" fill="none" stroke="#4d4e52" stroke-width="3"/>
<line x1="162.9" y1="381" x2="162.9" y2="387.2" stroke="#4d4e52" stroke-width="2.6"/>
<line x1="162.9" y1="635" x2="162.9" y2="628.5" stroke="#4d4e52" stroke-width="2.6"/>
<line x1="371.2" y1="381" x2="371.2" y2="387.2" stroke="#4d4e52" stroke-width="2.6"/>
<line x1="371.2" y1="635" x2="371.2" y2="628.5" stroke="#4d4e52" stroke-width="2.6"/>
<line x1="579.3" y1="381" x2="579.3" y2="387.2" stroke="#4d4e52" stroke-width="2.6"/>
<line x1="579.3" y1="635" x2="579.3" y2="628.5" stroke="#4d4e52" stroke-width="2.6"/>
<line x1="60.5" y1="428.9" x2="66.9" y2="428.9" stroke="#4d4e52" stroke-width="2.8"/>
<line x1="682" y1="428.9" x2="675.3" y2="428.9" stroke="#4d4e52" stroke-width="2.8"/>
<line x1="60.5" y1="508.0" x2="66.9" y2="508.0" stroke="#4d4e52" stroke-width="2.8"/>
<line x1="682" y1="508.0" x2="675.3" y2="508.0" stroke="#4d4e52" stroke-width="2.8"/>
<line x1="60.5" y1="587.0" x2="66.9" y2="587.0" stroke="#4d4e52" stroke-width="2.8"/>
<line x1="682" y1="587.0" x2="675.3" y2="587.0" stroke="#4d4e52" stroke-width="2.8"/>
<path d="M58.6,507.81 L59.1,507.81 L59.6,507.81 L60.1,507.82 L60.6,507.82 L61.1,507.82 L61.6,507.82 L62.1,507.82 L62.6,507.82 L63.1,507.82 L63.6,507.82 L64.1,507.82 L64.6,507.82 L65.1,507.82 L65.6,507.82 L66.1,507.82 L66.6,507.83 L67.1,507.83 L67.6,507.83 L68.1,507.83 L68.6,507.83 L69.1,507.83 L69.6,507.83 L70.1,507.83 L70.6,507.83 L71.1,507.84 L71.6,507.84 L72.1,507.84 L72.6,507.84 L73.1,507.84 L73.6,507.84 L74.1,507.84 L74.6,507.85 L75.1,507.85 L75.6,507.85 L76.1,507.85 L76.6,507.85 L77.1,507.85 L77.6,507.86 L78.1,507.86 L78.6,507.86 L79.1,507.86 L79.6,507.87 L80.1,507.87 L80.6,507.87 L81.1,507.87 L81.6,507.88 L82.1,507.88 L82.6,507.88 L83.1,507.88 L83.6,507.89 L84.1,507.89 L84.6,507.89 L85.1,507.9 L85.6,507.9 L86.1,507.9 L86.6,507.91 L87.1,507.91 L87.6,507.92 L88.1,507.92 L88.6,507.92 L89.1,507.93 L89.6,507.93 L90.1,507.94 L90.6,507.94 L91.1,507.95 L91.6,507.95 L92.1,507.96 L92.6,507.96 L93.1,507.97 L93.6,507.97 L94.1,507.98 L94.6,507.98 L95.1,507.99 L95.6,508 L96.1,508 L96.6,508.01 L97.1,508.02 L97.6,508.02 L98.1,508.03 L98.6,508.04 L99.1,508.05 L99.6,508.06 L100.1,508.06 L100.6,508.07 L101.1,508.08 L101.6,508.09 L102.1,508.1 L102.6,508.11 L103.1,508.12 L103.6,508.13 L104.1,508.14 L104.6,508.15 L105.1,508.16 L105.6,508.17 L106.1,508.18 L106.6,508.2 L107.1,508.21 L107.6,508.22 L108.1,508.23 L108.6,508.25 L109.1,508.26 L109.6,508.28 L110.1,508.29 L110.6,508.31 L111.1,508.32 L111.6,508.34 L112.1,508.35 L112.6,508.37 L113.1,508.39 L113.6,508.4 L114.1,508.42 L114.6,508.44 L115.1,508.46 L115.6,508.48 L116.1,508.5 L116.6,508.52 L117.1,508.54 L117.6,508.56 L118.1,508.58 L118.6,508.61 L119.1,508.63 L119.6,508.66 L120.1,508.68 L120.6,508.7 L121.1,508.73 L121.6,508.76 L122.1,508.78 L122.6,508.81 L123.1,508.84 L123.6,508.87 L124.1,508.9 L124.6,508.93 L125.1,508.96 L125.6,508.99 L126.1,509.03 L126.6,509.06 L127.1,509.1 L127.6,509.13 L128.1,509.17 L128.6,509.2 L129.1,509.24 L129.6,509.28 L130.1,509.32 L130.6,509.36 L131.1,509.4 L131.6,509.45 L132.1,509.49 L132.6,509.54 L133.1,509.58 L133.6,509.63 L134.1,509.68 L134.6,509.72 L135.1,509.77 L135.6,509.83 L136.1,509.88 L136.6,509.93 L137.1,509.99 L137.6,510.04 L138.1,510.1 L138.6,510.16 L139.1,510.22 L139.6,510.28 L140.1,510.34 L140.6,510.4 L141.1,510.47 L141.6,510.53 L142.1,510.6 L142.6,510.67 L143.1,510.74 L143.6,510.81 L144.1,510.89 L144.6,510.96 L145.1,511.04 L145.6,511.12 L146.1,511.2 L146.6,511.28 L147.1,511.36 L147.6,511.44 L148.1,511.53 L148.6,511.62 L149.1,511.71 L149.6,511.8 L150.1,511.89 L150.6,511.99 L151.1,512.08 L151.6,512.18 L152.1,512.28 L152.6,512.39 L153.1,512.49 L153.6,512.6 L154.1,512.71 L154.6,512.82 L155.1,512.93 L155.6,513.04 L156.1,513.16 L156.6,513.28 L157.1,513.4 L157.6,513.52 L158.1,513.65 L158.6,513.77 L159.1,513.9 L159.6,514.04 L160.1,514.17 L160.6,514.31 L161.1,514.45 L161.6,514.59 L162.1,514.73 L162.6,514.88 L163.1,515.02 L163.6,515.18 L164.1,515.33 L164.6,515.49 L165.1,515.64 L165.6,515.81 L166.1,515.97 L166.6,516.14 L167.1,516.31 L167.6,516.48 L168.1,516.65 L168.6,516.83 L169.1,517.01 L169.6,517.19 L170.1,517.38 L170.6,517.57 L171.1,517.76 L171.6,517.95 L172.1,518.15 L172.6,518.35 L173.1,518.55 L173.6,518.76 L174.1,518.97 L174.6,519.18 L175.1,519.4 L175.6,519.62 L176.1,519.84 L176.6,520.06 L177.1,520.29 L177.6,520.52 L178.1,520.75 L178.6,520.99 L179.1,521.23 L179.6,521.48 L180.1,521.72 L180.6,521.97 L181.1,522.23 L181.6,522.48 L182.1,522.74 L182.6,523.01 L183.1,523.27 L183.6,523.54 L184.1,523.82 L184.6,524.1 L185.1,524.38 L185.6,524.66 L186.1,524.95 L186.6,525.24 L187.1,525.53 L187.6,525.83 L188.1,526.13 L188.6,526.44 L189.1,526.74 L189.6,527.06 L190.1,527.37 L190.6,527.69 L191.1,528.01 L191.6,528.34 L192.1,528.67 L192.6,529 L193.1,529.34 L193.6,529.68 L194.1,530.02 L194.6,530.37 L195.1,530.72 L195.6,531.07 L196.1,531.43 L196.6,531.79 L197.1,532.16 L197.6,532.52 L198.1,532.9 L198.6,533.27 L199.1,533.65 L199.6,534.03 L200.1,534.42 L200.6,534.81 L201.1,535.2 L201.6,535.59 L202.1,535.99 L202.6,536.4 L203.1,536.8 L203.6,537.21 L204.1,537.62 L204.6,538.04 L205.1,538.46 L205.6,538.88 L206.1,539.31 L206.6,539.74 L207.1,540.17 L207.6,540.61 L208.1,541.05 L208.6,541.49 L209.1,541.93 L209.6,542.38 L210.1,542.83 L210.6,543.29 L211.1,543.74 L211.6,544.2 L212.1,544.67 L212.6,545.13 L213.1,545.6 L213.6,546.07 L214.1,546.55 L214.6,547.03 L215.1,547.51 L215.6,547.99 L216.1,548.47 L216.6,548.96 L217.1,549.45 L217.6,549.94 L218.1,550.44 L218.6,550.93 L219.1,551.43 L219.6,551.94 L220.1,552.44 L220.6,552.95 L221.1,553.45 L221.6,553.96 L222.1,554.48 L222.6,554.99 L223.1,555.51 L223.6,556.02 L224.1,556.54 L224.6,557.06 L225.1,557.59 L225.6,558.11 L226.1,558.63 L226.6,559.16 L227.1,559.69 L227.6,560.22 L228.1,560.75 L228.6,561.28 L229.1,561.81 L229.6,562.35 L230.1,562.88 L230.6,563.42 L231.1,563.95 L231.6,564.49 L232.1,565.03 L232.6,565.56 L233.1,566.1 L233.6,566.64 L234.1,567.18 L234.6,567.72 L235.1,568.25 L235.6,568.79 L236.1,569.33 L236.6,569.87 L237.1,570.41 L237.6,570.95 L238.1,571.48 L238.6,572.02 L239.1,572.56 L239.6,573.09 L240.1,573.63 L240.6,574.16 L241.1,574.69 L241.6,575.22 L242.1,575.75 L242.6,576.28 L243.1,576.81 L243.6,577.33 L244.1,577.86 L244.6,578.38 L245.1,578.9 L245.6,579.42 L246.1,579.94 L246.6,580.45 L247.1,580.97 L247.6,581.48 L248.1,581.98 L248.6,582.49 L249.1,582.99 L249.6,583.49 L250.1,583.99 L250.6,584.49 L251.1,584.98 L251.6,585.47 L252.1,585.95 L252.6,586.43 L253.1,586.91 L253.6,587.39 L254.1,587.86 L254.6,588.33 L255.1,588.79 L255.6,589.25 L256.1,589.71 L256.6,590.16 L257.1,590.61 L257.6,591.05 L258.1,591.49 L258.6,591.93 L259.1,592.36 L259.6,592.79 L260.1,593.21 L260.6,593.62 L261.1,594.03 L261.6,594.44 L262.1,594.84 L262.6,595.24 L263.1,595.63 L263.6,596.01 L264.1,596.39 L264.6,596.77 L265.1,597.13 L265.6,597.5 L266.1,597.85 L266.6,598.2 L267.1,598.55 L267.6,598.89 L268.1,599.22 L268.6,599.54 L269.1,599.86 L269.6,600.18 L270.1,600.48 L270.6,600.78 L271.1,601.07 L271.6,601.36 L272.1,601.64 L272.6,601.91 L273.1,602.17 L273.6,602.43 L274.1,602.68 L274.6,602.92 L275.1,603.16 L275.6,603.39 L276.1,603.61 L276.6,603.82 L277.1,604.03 L277.6,604.22 L278.1,604.41 L278.6,604.6 L279.1,604.77 L279.6,604.94 L280.1,605.09 L280.6,605.24 L281.1,605.39 L281.6,605.52 L282.1,605.64 L282.6,605.76 L283.1,605.87 L283.6,605.97 L284.1,606.06 L284.6,606.14 L285.1,606.22 L285.6,606.28 L286.1,606.34 L286.6,606.39 L287.1,606.43 L287.6,606.46 L288.1,606.48 L288.6,606.49 L289.1,606.5 L289.6,606.49 L290.1,606.48 L290.6,606.46 L291.1,606.43 L291.6,606.38 L292.1,606.33 L292.6,606.28 L293.1,606.21 L293.6,606.13 L294.1,606.04 L294.6,605.95 L295.1,605.84 L295.6,605.73 L296.1,605.61 L296.6,605.48 L297.1,605.33 L297.6,605.18 L298.1,605.02 L298.6,604.85 L299.1,604.68 L299.6,604.49 L300.1,604.29 L300.6,604.09 L301.1,603.87 L301.6,603.65 L302.1,603.41 L302.6,603.17 L303.1,602.92 L303.6,602.66 L304.1,602.39 L304.6,602.11 L305.1,601.82 L305.6,601.53 L306.1,601.22 L306.6,600.91 L307.1,600.58 L307.6,600.25 L308.1,599.91 L308.6,599.56 L309.1,599.2 L309.6,598.83 L310.1,598.45 L310.6,598.06 L311.1,597.67 L311.6,597.27 L312.1,596.86 L312.6,596.43 L313.1,596.01 L313.6,595.57 L314.1,595.12 L314.6,594.67 L315.1,594.21 L315.6,593.74 L316.1,593.26 L316.6,592.77 L317.1,592.27 L317.6,591.77 L318.1,591.26 L318.6,590.74 L319.1,590.21 L319.6,589.68 L320.1,589.14 L320.6,588.59 L321.1,588.03 L321.6,587.46 L322.1,586.89 L322.6,586.31 L323.1,585.72 L323.6,585.13 L324.1,584.52 L324.6,583.91 L325.1,583.3 L325.6,582.68 L326.1,582.05 L326.6,581.41 L327.1,580.76 L327.6,580.11 L328.1,579.46 L328.6,578.79 L329.1,578.12 L329.6,577.45 L330.1,576.77 L330.6,576.08 L331.1,575.38 L331.6,574.68 L332.1,573.98 L332.6,573.26 L333.1,572.55 L333.6,571.82 L334.1,571.09 L334.6,570.36 L335.1,569.62 L335.6,568.87 L336.1,568.12 L336.6,567.37 L337.1,566.61 L337.6,565.84 L338.1,565.07 L338.6,564.29 L339.1,563.51 L339.6,562.73 L340.1,561.94 L340.6,561.15 L341.1,560.35 L341.6,559.55 L342.1,558.74 L342.6,557.93 L343.1,557.12 L343.6,556.3 L344.1,555.47 L344.6,554.65 L345.1,553.82 L345.6,552.99 L346.1,552.15 L346.6,551.31 L347.1,550.47 L347.6,549.62 L348.1,548.77 L348.6,547.92 L349.1,547.07 L349.6,546.21 L350.1,545.35 L350.6,544.49 L351.1,543.62 L351.6,542.75 L352.1,541.88 L352.6,541.01 L353.1,540.14 L353.6,539.26 L354.1,538.38 L354.6,537.5 L355.1,536.62 L355.6,535.73 L356.1,534.85 L356.6,533.96 L357.1,533.07 L357.6,532.18 L358.1,531.29 L358.6,530.39 L359.1,529.5 L359.6,528.6 L360.1,527.7 L360.6,526.8 L361.1,525.91 L361.6,525.01 L362.1,524.1 L362.6,523.2 L363.1,522.3 L363.6,521.4 L364.1,520.49 L364.6,519.59 L365.1,518.68 L365.6,517.78 L366.1,516.87 L366.6,515.96 L367.1,515.06 L367.6,514.15 L368.1,513.24 L368.6,512.34 L369.1,511.43 L369.6,510.52 L370.1,509.61 L370.6,508.71 L371.1,507.8 L371.6,506.89 L372.1,505.99 L372.6,505.08 L373.1,504.17 L373.6,503.26 L374.1,502.36 L374.6,501.45 L375.1,500.54 L375.6,499.64 L376.1,498.73 L376.6,497.82 L377.1,496.92 L377.6,496.01 L378.1,495.11 L378.6,494.2 L379.1,493.3 L379.6,492.4 L380.1,491.5 L380.6,490.59 L381.1,489.69 L381.6,488.8 L382.1,487.9 L382.6,487 L383.1,486.1 L383.6,485.21 L384.1,484.31 L384.6,483.42 L385.1,482.53 L385.6,481.64 L386.1,480.75 L386.6,479.87 L387.1,478.98 L387.6,478.1 L388.1,477.22 L388.6,476.34 L389.1,475.46 L389.6,474.59 L390.1,473.72 L390.6,472.85 L391.1,471.98 L391.6,471.11 L392.1,470.25 L392.6,469.39 L393.1,468.53 L393.6,467.68 L394.1,466.83 L394.6,465.98 L395.1,465.13 L395.6,464.29 L396.1,463.45 L396.6,462.61 L397.1,461.78 L397.6,460.95 L398.1,460.13 L398.6,459.3 L399.1,458.48 L399.6,457.67 L400.1,456.86 L400.6,456.05 L401.1,455.25 L401.6,454.45 L402.1,453.66 L402.6,452.87 L403.1,452.09 L403.6,451.31 L404.1,450.53 L404.6,449.76 L405.1,448.99 L405.6,448.23 L406.1,447.48 L406.6,446.73 L407.1,445.98 L407.6,445.24 L408.1,444.51 L408.6,443.78 L409.1,443.05 L409.6,442.34 L410.1,441.62 L410.6,440.92 L411.1,440.22 L411.6,439.52 L412.1,438.83 L412.6,438.15 L413.1,437.48 L413.6,436.81 L414.1,436.14 L414.6,435.49 L415.1,434.84 L415.6,434.19 L416.1,433.55 L416.6,432.92 L417.1,432.3 L417.6,431.69 L418.1,431.08 L418.6,430.47 L419.1,429.88 L419.6,429.29 L420.1,428.71 L420.6,428.14 L421.1,427.57 L421.6,427.01 L422.1,426.46 L422.6,425.92 L423.1,425.39 L423.6,424.86 L424.1,424.34 L424.6,423.83 L425.1,423.33 L425.6,422.83 L426.1,422.34 L426.6,421.86 L427.1,421.39 L427.6,420.93 L428.1,420.48 L428.6,420.03 L429.1,419.59 L429.6,419.17 L430.1,418.74 L430.6,418.33 L431.1,417.93 L431.6,417.54 L432.1,417.15 L432.6,416.77 L433.1,416.4 L433.6,416.04 L434.1,415.69 L434.6,415.35 L435.1,415.02 L435.6,414.69 L436.1,414.38 L436.6,414.07 L437.1,413.78 L437.6,413.49 L438.1,413.21 L438.6,412.94 L439.1,412.68 L439.6,412.43 L440.1,412.19 L440.6,411.95 L441.1,411.73 L441.6,411.51 L442.1,411.31 L442.6,411.11 L443.1,410.92 L443.6,410.75 L444.1,410.58 L444.6,410.42 L445.1,410.27 L445.6,410.12 L446.1,409.99 L446.6,409.87 L447.1,409.76 L447.6,409.65 L448.1,409.56 L448.6,409.47 L449.1,409.39 L449.6,409.32 L450.1,409.27 L450.6,409.22 L451.1,409.17 L451.6,409.14 L452.1,409.12 L452.6,409.11 L453.1,409.1 L453.6,409.11 L454.1,409.12 L454.6,409.14 L455.1,409.17 L455.6,409.21 L456.1,409.26 L456.6,409.32 L457.1,409.38 L457.6,409.46 L458.1,409.54 L458.6,409.63 L459.1,409.73 L459.6,409.84 L460.1,409.96 L460.6,410.08 L461.1,410.21 L461.6,410.36 L462.1,410.51 L462.6,410.66 L463.1,410.83 L463.6,411 L464.1,411.19 L464.6,411.38 L465.1,411.57 L465.6,411.78 L466.1,411.99 L466.6,412.21 L467.1,412.44 L467.6,412.68 L468.1,412.92 L468.6,413.17 L469.1,413.43 L469.6,413.69 L470.1,413.96 L470.6,414.24 L471.1,414.53 L471.6,414.82 L472.1,415.12 L472.6,415.42 L473.1,415.74 L473.6,416.06 L474.1,416.38 L474.6,416.71 L475.1,417.05 L475.6,417.4 L476.1,417.75 L476.6,418.1 L477.1,418.47 L477.6,418.83 L478.1,419.21 L478.6,419.59 L479.1,419.97 L479.6,420.36 L480.1,420.76 L480.6,421.16 L481.1,421.57 L481.6,421.98 L482.1,422.39 L482.6,422.81 L483.1,423.24 L483.6,423.67 L484.1,424.11 L484.6,424.55 L485.1,424.99 L485.6,425.44 L486.1,425.89 L486.6,426.35 L487.1,426.81 L487.6,427.27 L488.1,427.74 L488.6,428.21 L489.1,428.69 L489.6,429.17 L490.1,429.65 L490.6,430.13 L491.1,430.62 L491.6,431.11 L492.1,431.61 L492.6,432.11 L493.1,432.61 L493.6,433.11 L494.1,433.62 L494.6,434.12 L495.1,434.63 L495.6,435.15 L496.1,435.66 L496.6,436.18 L497.1,436.7 L497.6,437.22 L498.1,437.74 L498.6,438.27 L499.1,438.79 L499.6,439.32 L500.1,439.85 L500.6,440.38 L501.1,440.91 L501.6,441.44 L502.1,441.97 L502.6,442.51 L503.1,443.04 L503.6,443.58 L504.1,444.12 L504.6,444.65 L505.1,445.19 L505.6,445.73 L506.1,446.27 L506.6,446.81 L507.1,447.35 L507.6,447.88 L508.1,448.42 L508.6,448.96 L509.1,449.5 L509.6,450.04 L510.1,450.57 L510.6,451.11 L511.1,451.65 L511.6,452.18 L512.1,452.72 L512.6,453.25 L513.1,453.79 L513.6,454.32 L514.1,454.85 L514.6,455.38 L515.1,455.91 L515.6,456.44 L516.1,456.97 L516.6,457.49 L517.1,458.01 L517.6,458.54 L518.1,459.06 L518.6,459.58 L519.1,460.09 L519.6,460.61 L520.1,461.12 L520.6,461.64 L521.1,462.15 L521.6,462.65 L522.1,463.16 L522.6,463.66 L523.1,464.17 L523.6,464.67 L524.1,465.16 L524.6,465.66 L525.1,466.15 L525.6,466.64 L526.1,467.13 L526.6,467.61 L527.1,468.09 L527.6,468.57 L528.1,469.05 L528.6,469.53 L529.1,470 L529.6,470.47 L530.1,470.93 L530.6,471.4 L531.1,471.86 L531.6,472.31 L532.1,472.77 L532.6,473.22 L533.1,473.67 L533.6,474.11 L534.1,474.55 L534.6,474.99 L535.1,475.43 L535.6,475.86 L536.1,476.29 L536.6,476.72 L537.1,477.14 L537.6,477.56 L538.1,477.98 L538.6,478.39 L539.1,478.8 L539.6,479.2 L540.1,479.61 L540.6,480.01 L541.1,480.4 L541.6,480.79 L542.1,481.18 L542.6,481.57 L543.1,481.95 L543.6,482.33 L544.1,482.7 L544.6,483.08 L545.1,483.44 L545.6,483.81 L546.1,484.17 L546.6,484.53 L547.1,484.88 L547.6,485.23 L548.1,485.58 L548.6,485.92 L549.1,486.26 L549.6,486.6 L550.1,486.93 L550.6,487.26 L551.1,487.59 L551.6,487.91 L552.1,488.23 L552.6,488.54 L553.1,488.86 L553.6,489.16 L554.1,489.47 L554.6,489.77 L555.1,490.07 L555.6,490.36 L556.1,490.65 L556.6,490.94 L557.1,491.22 L557.6,491.5 L558.1,491.78 L558.6,492.06 L559.1,492.33 L559.6,492.59 L560.1,492.86 L560.6,493.12 L561.1,493.37 L561.6,493.63 L562.1,493.88 L562.6,494.12 L563.1,494.37 L563.6,494.61 L564.1,494.85 L564.6,495.08 L565.1,495.31 L565.6,495.54 L566.1,495.76 L566.6,495.98 L567.1,496.2 L567.6,496.42 L568.1,496.63 L568.6,496.84 L569.1,497.05 L569.6,497.25 L570.1,497.45 L570.6,497.65 L571.1,497.84 L571.6,498.03 L572.1,498.22 L572.6,498.41 L573.1,498.59 L573.6,498.77 L574.1,498.95 L574.6,499.12 L575.1,499.29 L575.6,499.46 L576.1,499.63 L576.6,499.79 L577.1,499.96 L577.6,500.11 L578.1,500.27 L578.6,500.42 L579.1,500.58 L579.6,500.72 L580.1,500.87 L580.6,501.01 L581.1,501.15 L581.6,501.29 L582.1,501.43 L582.6,501.56 L583.1,501.7 L583.6,501.83 L584.1,501.95 L584.6,502.08 L585.1,502.2 L585.6,502.32 L586.1,502.44 L586.6,502.56 L587.1,502.67 L587.6,502.78 L588.1,502.89 L588.6,503 L589.1,503.11 L589.6,503.21 L590.1,503.32 L590.6,503.42 L591.1,503.52 L591.6,503.61 L592.1,503.71 L592.6,503.8 L593.1,503.89 L593.6,503.98 L594.1,504.07 L594.6,504.16 L595.1,504.24 L595.6,504.32 L596.1,504.4 L596.6,504.48 L597.1,504.56 L597.6,504.64 L598.1,504.71 L598.6,504.79 L599.1,504.86 L599.6,504.93 L600.1,505 L600.6,505.07 L601.1,505.13 L601.6,505.2 L602.1,505.26 L602.6,505.32 L603.1,505.38 L603.6,505.44 L604.1,505.5 L604.6,505.56 L605.1,505.61 L605.6,505.67 L606.1,505.72 L606.6,505.77 L607.1,505.83 L607.6,505.88 L608.1,505.92 L608.6,505.97 L609.1,506.02 L609.6,506.06 L610.1,506.11 L610.6,506.15 L611.1,506.2 L611.6,506.24 L612.1,506.28 L612.6,506.32 L613.1,506.36 L613.6,506.4 L614.1,506.43 L614.6,506.47 L615.1,506.5 L615.6,506.54 L616.1,506.57 L616.6,506.61 L617.1,506.64 L617.6,506.67 L618.1,506.7 L618.6,506.73 L619.1,506.76 L619.6,506.79 L620.1,506.82 L620.6,506.84 L621.1,506.87 L621.6,506.9 L622.1,506.92 L622.6,506.94 L623.1,506.97 L623.6,506.99 L624.1,507.02 L624.6,507.04 L625.1,507.06 L625.6,507.08 L626.1,507.1 L626.6,507.12 L627.1,507.14 L627.6,507.16 L628.1,507.18 L628.6,507.2 L629.1,507.21 L629.6,507.23 L630.1,507.25 L630.6,507.26 L631.1,507.28 L631.6,507.29 L632.1,507.31 L632.6,507.32 L633.1,507.34 L633.6,507.35 L634.1,507.37 L634.6,507.38 L635.1,507.39 L635.6,507.4 L636.1,507.42 L636.6,507.43 L637.1,507.44 L637.6,507.45 L638.1,507.46 L638.6,507.47 L639.1,507.48 L639.6,507.49 L640.1,507.5 L640.6,507.51 L641.1,507.52 L641.6,507.53 L642.1,507.54 L642.6,507.54 L643.1,507.55 L643.6,507.56 L644.1,507.57 L644.6,507.58 L645.1,507.58 L645.6,507.59 L646.1,507.6 L646.6,507.6 L647.1,507.61 L647.6,507.62 L648.1,507.62 L648.6,507.63 L649.1,507.63 L649.6,507.64 L650.1,507.64 L650.6,507.65 L651.1,507.65 L651.6,507.66 L652.1,507.66 L652.6,507.67 L653.1,507.67 L653.6,507.68 L654.1,507.68 L654.6,507.68 L655.1,507.69 L655.6,507.69 L656.1,507.7 L656.6,507.7 L657.1,507.7 L657.6,507.71 L658.1,507.71 L658.6,507.71 L659.1,507.72 L659.6,507.72 L660.1,507.72 L660.6,507.72 L661.1,507.73 L661.6,507.73 L662.1,507.73 L662.6,507.73 L663.1,507.74 L663.6,507.74 L664.1,507.74 L664.6,507.74 L665.1,507.75 L665.6,507.75 L666.1,507.75 L666.6,507.75 L667.1,507.75 L667.6,507.75 L668.1,507.76 L668.6,507.76 L669.1,507.76 L669.6,507.76 L670.1,507.76 L670.6,507.76 L671.1,507.76 L671.6,507.77 L672.1,507.77 L672.6,507.77 L673.1,507.77 L673.6,507.77 L674.1,507.77 L674.6,507.77 L675.1,507.77 L675.6,507.77 L676.1,507.78 L676.6,507.78 L677.1,507.78 L677.6,507.78 L678.1,507.78 L678.6,507.78 L679.1,507.78 L679.6,507.78 L680.1,507.78 L680.6,507.78 L681.1,507.78 L681.6,507.78 L682.1,507.78 L682.6,507.79 L683.1,507.79" fill="none" stroke="#0a72b0" stroke-width="4.2"/>
<path d="M58.6,507.6 L59.1,507.6 L59.6,507.6 L60.1,507.6 L60.6,507.6 L61.1,507.6 L61.6,507.6 L62.1,507.6 L62.6,507.6 L63.1,507.6 L63.6,507.6 L64.1,507.6 L64.6,507.6 L65.1,507.61 L65.6,507.61 L66.1,507.61 L66.6,507.61 L67.1,507.61 L67.6,507.61 L68.1,507.61 L68.6,507.61 L69.1,507.61 L69.6,507.61 L70.1,507.61 L70.6,507.61 L71.1,507.61 L71.6,507.61 L72.1,507.61 L72.6,507.61 L73.1,507.61 L73.6,507.61 L74.1,507.61 L74.6,507.61 L75.1,507.61 L75.6,507.61 L76.1,507.61 L76.6,507.61 L77.1,507.61 L77.6,507.61 L78.1,507.61 L78.6,507.61 L79.1,507.61 L79.6,507.61 L80.1,507.61 L80.6,507.61 L81.1,507.61 L81.6,507.62 L82.1,507.62 L82.6,507.62 L83.1,507.62 L83.6,507.62 L84.1,507.62 L84.6,507.62 L85.1,507.62 L85.6,507.62 L86.1,507.62 L86.6,507.62 L87.1,507.62 L87.6,507.62 L88.1,507.62 L88.6,507.62 L89.1,507.62 L89.6,507.62 L90.1,507.63 L90.6,507.63 L91.1,507.63 L91.6,507.63 L92.1,507.63 L92.6,507.63 L93.1,507.63 L93.6,507.63 L94.1,507.63 L94.6,507.63 L95.1,507.63 L95.6,507.64 L96.1,507.64 L96.6,507.64 L97.1,507.64 L97.6,507.64 L98.1,507.64 L98.6,507.64 L99.1,507.64 L99.6,507.65 L100.1,507.65 L100.6,507.65 L101.1,507.65 L101.6,507.65 L102.1,507.65 L102.6,507.65 L103.1,507.66 L103.6,507.66 L104.1,507.66 L104.6,507.66 L105.1,507.66 L105.6,507.67 L106.1,507.67 L106.6,507.67 L107.1,507.67 L107.6,507.67 L108.1,507.68 L108.6,507.68 L109.1,507.68 L109.6,507.68 L110.1,507.68 L110.6,507.69 L111.1,507.69 L111.6,507.69 L112.1,507.69 L112.6,507.7 L113.1,507.7 L113.6,507.7 L114.1,507.71 L114.6,507.71 L115.1,507.71 L115.6,507.72 L116.1,507.72 L116.6,507.72 L117.1,507.73 L117.6,507.73 L118.1,507.73 L118.6,507.74 L119.1,507.74 L119.6,507.74 L120.1,507.75 L120.6,507.75 L121.1,507.76 L121.6,507.76 L122.1,507.76 L122.6,507.77 L123.1,507.77 L123.6,507.78 L124.1,507.78 L124.6,507.79 L125.1,507.79 L125.6,507.8 L126.1,507.8 L126.6,507.81 L127.1,507.82 L127.6,507.82 L128.1,507.83 L128.6,507.83 L129.1,507.84 L129.6,507.85 L130.1,507.85 L130.6,507.86 L131.1,507.87 L131.6,507.87 L132.1,507.88 L132.6,507.89 L133.1,507.89 L133.6,507.9 L134.1,507.91 L134.6,507.92 L135.1,507.93 L135.6,507.93 L136.1,507.94 L136.6,507.95 L137.1,507.96 L137.6,507.97 L138.1,507.98 L138.6,507.99 L139.1,508 L139.6,508.01 L140.1,508.02 L140.6,508.03 L141.1,508.04 L141.6,508.05 L142.1,508.06 L142.6,508.07 L143.1,508.09 L143.6,508.1 L144.1,508.11 L144.6,508.12 L145.1,508.14 L145.6,508.15 L146.1,508.16 L146.6,508.18 L147.1,508.19 L147.6,508.2 L148.1,508.22 L148.6,508.23 L149.1,508.25 L149.6,508.26 L150.1,508.28 L150.6,508.3 L151.1,508.31 L151.6,508.33 L152.1,508.35 L152.6,508.36 L153.1,508.38 L153.6,508.4 L154.1,508.42 L154.6,508.44 L155.1,508.46 L155.6,508.48 L156.1,508.5 L156.6,508.52 L157.1,508.54 L157.6,508.56 L158.1,508.58 L158.6,508.6 L159.1,508.63 L159.6,508.65 L160.1,508.67 L160.6,508.7 L161.1,508.72 L161.6,508.75 L162.1,508.77 L162.6,508.8 L163.1,508.83 L163.6,508.85 L164.1,508.88 L164.6,508.91 L165.1,508.94 L165.6,508.97 L166.1,509 L166.6,509.03 L167.1,509.06 L167.6,509.09 L168.1,509.12 L168.6,509.15 L169.1,509.19 L169.6,509.22 L170.1,509.26 L170.6,509.29 L171.1,509.33 L171.6,509.36 L172.1,509.4 L172.6,509.44 L173.1,509.48 L173.6,509.51 L174.1,509.55 L174.6,509.59 L175.1,509.63 L175.6,509.68 L176.1,509.72 L176.6,509.76 L177.1,509.81 L177.6,509.85 L178.1,509.9 L178.6,509.94 L179.1,509.99 L179.6,510.04 L180.1,510.08 L180.6,510.13 L181.1,510.18 L181.6,510.24 L182.1,510.29 L182.6,510.34 L183.1,510.39 L183.6,510.45 L184.1,510.5 L184.6,510.56 L185.1,510.61 L185.6,510.67 L186.1,510.73 L186.6,510.79 L187.1,510.85 L187.6,510.91 L188.1,510.97 L188.6,511.04 L189.1,511.1 L189.6,511.17 L190.1,511.23 L190.6,511.3 L191.1,511.37 L191.6,511.44 L192.1,511.51 L192.6,511.58 L193.1,511.65 L193.6,511.73 L194.1,511.8 L194.6,511.87 L195.1,511.95 L195.6,512.03 L196.1,512.11 L196.6,512.19 L197.1,512.27 L197.6,512.35 L198.1,512.43 L198.6,512.52 L199.1,512.6 L199.6,512.69 L200.1,512.78 L200.6,512.86 L201.1,512.95 L201.6,513.04 L202.1,513.14 L202.6,513.23 L203.1,513.32 L203.6,513.42 L204.1,513.52 L204.6,513.62 L205.1,513.71 L205.6,513.81 L206.1,513.92 L206.6,514.02 L207.1,514.12 L207.6,514.23 L208.1,514.34 L208.6,514.44 L209.1,514.55 L209.6,514.66 L210.1,514.78 L210.6,514.89 L211.1,515 L211.6,515.12 L212.1,515.23 L212.6,515.35 L213.1,515.47 L213.6,515.59 L214.1,515.72 L214.6,515.84 L215.1,515.96 L215.6,516.09 L216.1,516.22 L216.6,516.34 L217.1,516.47 L217.6,516.61 L218.1,516.74 L218.6,516.87 L219.1,517.01 L219.6,517.14 L220.1,517.28 L220.6,517.42 L221.1,517.56 L221.6,517.7 L222.1,517.84 L222.6,517.99 L223.1,518.13 L223.6,518.28 L224.1,518.43 L224.6,518.58 L225.1,518.73 L225.6,518.88 L226.1,519.03 L226.6,519.19 L227.1,519.34 L227.6,519.5 L228.1,519.66 L228.6,519.82 L229.1,519.98 L229.6,520.14 L230.1,520.3 L230.6,520.47 L231.1,520.63 L231.6,520.8 L232.1,520.97 L232.6,521.14 L233.1,521.31 L233.6,521.48 L234.1,521.65 L234.6,521.82 L235.1,522 L235.6,522.17 L236.1,522.35 L236.6,522.53 L237.1,522.71 L237.6,522.89 L238.1,523.07 L238.6,523.25 L239.1,523.43 L239.6,523.62 L240.1,523.8 L240.6,523.99 L241.1,524.17 L241.6,524.36 L242.1,524.55 L242.6,524.74 L243.1,524.93 L243.6,525.12 L244.1,525.31 L244.6,525.51 L245.1,525.7 L245.6,525.89 L246.1,526.09 L246.6,526.28 L247.1,526.48 L247.6,526.68 L248.1,526.87 L248.6,527.07 L249.1,527.27 L249.6,527.47 L250.1,527.67 L250.6,527.87 L251.1,528.07 L251.6,528.27 L252.1,528.47 L252.6,528.67 L253.1,528.88 L253.6,529.08 L254.1,529.28 L254.6,529.48 L255.1,529.69 L255.6,529.89 L256.1,530.09 L256.6,530.3 L257.1,530.5 L257.6,530.7 L258.1,530.91 L258.6,531.11 L259.1,531.31 L259.6,531.52 L260.1,531.72 L260.6,531.92 L261.1,532.13 L261.6,532.33 L262.1,532.53 L262.6,532.73 L263.1,532.93 L263.6,533.13 L264.1,533.33 L264.6,533.53 L265.1,533.73 L265.6,533.93 L266.1,534.13 L266.6,534.33 L267.1,534.53 L267.6,534.72 L268.1,534.92 L268.6,535.11 L269.1,535.3 L269.6,535.5 L270.1,535.69 L270.6,535.88 L271.1,536.07 L271.6,536.26 L272.1,536.44 L272.6,536.63 L273.1,536.81 L273.6,537 L274.1,537.18 L274.6,537.36 L275.1,537.54 L275.6,537.72 L276.1,537.89 L276.6,538.07 L277.1,538.24 L277.6,538.41 L278.1,538.58 L278.6,538.75 L279.1,538.92 L279.6,539.08 L280.1,539.24 L280.6,539.4 L281.1,539.56 L281.6,539.72 L282.1,539.87 L282.6,540.02 L283.1,540.17 L283.6,540.32 L284.1,540.46 L284.6,540.61 L285.1,540.75 L285.6,540.88 L286.1,541.02 L286.6,541.15 L287.1,541.28 L287.6,541.41 L288.1,541.53 L288.6,541.65 L289.1,541.77 L289.6,541.89 L290.1,542 L290.6,542.11 L291.1,542.22 L291.6,542.32 L292.1,542.42 L292.6,542.52 L293.1,542.62 L293.6,542.71 L294.1,542.8 L294.6,542.88 L295.1,542.96 L295.6,543.04 L296.1,543.12 L296.6,543.19 L297.1,543.25 L297.6,543.32 L298.1,543.38 L298.6,543.43 L299.1,543.49 L299.6,543.54 L300.1,543.58 L300.6,543.62 L301.1,543.66 L301.6,543.7 L302.1,543.73 L302.6,543.75 L303.1,543.77 L303.6,543.79 L304.1,543.8 L304.6,543.81 L305.1,543.82 L305.6,543.82 L306.1,543.82 L306.6,543.81 L307.1,543.8 L307.6,543.78 L308.1,543.76 L308.6,543.74 L309.1,543.71 L309.6,543.68 L310.1,543.64 L310.6,543.6 L311.1,543.55 L311.6,543.5 L312.1,543.44 L312.6,543.38 L313.1,543.32 L313.6,543.25 L314.1,543.17 L314.6,543.09 L315.1,543.01 L315.6,542.92 L316.1,542.83 L316.6,542.73 L317.1,542.63 L317.6,542.52 L318.1,542.41 L318.6,542.29 L319.1,542.17 L319.6,542.05 L320.1,541.92 L320.6,541.78 L321.1,541.64 L321.6,541.49 L322.1,541.34 L322.6,541.19 L323.1,541.03 L323.6,540.87 L324.1,540.7 L324.6,540.52 L325.1,540.34 L325.6,540.16 L326.1,539.97 L326.6,539.78 L327.1,539.58 L327.6,539.38 L328.1,539.17 L328.6,538.96 L329.1,538.74 L329.6,538.52 L330.1,538.29 L330.6,538.06 L331.1,537.83 L331.6,537.59 L332.1,537.34 L332.6,537.1 L333.1,536.84 L333.6,536.58 L334.1,536.32 L334.6,536.05 L335.1,535.78 L335.6,535.51 L336.1,535.23 L336.6,534.94 L337.1,534.65 L337.6,534.36 L338.1,534.06 L338.6,533.76 L339.1,533.45 L339.6,533.14 L340.1,532.83 L340.6,532.51 L341.1,532.19 L341.6,531.86 L342.1,531.53 L342.6,531.2 L343.1,530.86 L343.6,530.52 L344.1,530.17 L344.6,529.82 L345.1,529.47 L345.6,529.11 L346.1,528.75 L346.6,528.39 L347.1,528.02 L347.6,527.65 L348.1,527.28 L348.6,526.9 L349.1,526.52 L349.6,526.14 L350.1,525.75 L350.6,525.36 L351.1,524.97 L351.6,524.57 L352.1,524.18 L352.6,523.77 L353.1,523.37 L353.6,522.96 L354.1,522.55 L354.6,522.14 L355.1,521.73 L355.6,521.31 L356.1,520.89 L356.6,520.47 L357.1,520.05 L357.6,519.62 L358.1,519.2 L358.6,518.77 L359.1,518.33 L359.6,517.9 L360.1,517.47 L360.6,517.03 L361.1,516.59 L361.6,516.15 L362.1,515.71 L362.6,515.27 L363.1,514.82 L363.6,514.38 L364.1,513.93 L364.6,513.48 L365.1,513.03 L365.6,512.58 L366.1,512.13 L366.6,511.68 L367.1,511.23 L367.6,510.78 L368.1,510.33 L368.6,509.87 L369.1,509.42 L369.6,508.96 L370.1,508.51 L370.6,508.05 L371.1,507.6 L371.6,507.15 L372.1,506.69 L372.6,506.24 L373.1,505.78 L373.6,505.33 L374.1,504.87 L374.6,504.42 L375.1,503.97 L375.6,503.52 L376.1,503.07 L376.6,502.62 L377.1,502.17 L377.6,501.72 L378.1,501.27 L378.6,500.82 L379.1,500.38 L379.6,499.93 L380.1,499.49 L380.6,499.05 L381.1,498.61 L381.6,498.17 L382.1,497.73 L382.6,497.3 L383.1,496.87 L383.6,496.43 L384.1,496 L384.6,495.58 L385.1,495.15 L385.6,494.73 L386.1,494.31 L386.6,493.89 L387.1,493.47 L387.6,493.06 L388.1,492.65 L388.6,492.24 L389.1,491.83 L389.6,491.43 L390.1,491.02 L390.6,490.63 L391.1,490.23 L391.6,489.84 L392.1,489.45 L392.6,489.06 L393.1,488.68 L393.6,488.3 L394.1,487.92 L394.6,487.55 L395.1,487.18 L395.6,486.81 L396.1,486.45 L396.6,486.09 L397.1,485.73 L397.6,485.38 L398.1,485.03 L398.6,484.68 L399.1,484.34 L399.6,484 L400.1,483.67 L400.6,483.34 L401.1,483.01 L401.6,482.69 L402.1,482.37 L402.6,482.06 L403.1,481.75 L403.6,481.44 L404.1,481.14 L404.6,480.84 L405.1,480.55 L405.6,480.26 L406.1,479.97 L406.6,479.69 L407.1,479.42 L407.6,479.15 L408.1,478.88 L408.6,478.62 L409.1,478.36 L409.6,478.1 L410.1,477.86 L410.6,477.61 L411.1,477.37 L411.6,477.14 L412.1,476.91 L412.6,476.68 L413.1,476.46 L413.6,476.24 L414.1,476.03 L414.6,475.82 L415.1,475.62 L415.6,475.42 L416.1,475.23 L416.6,475.04 L417.1,474.86 L417.6,474.68 L418.1,474.5 L418.6,474.33 L419.1,474.17 L419.6,474.01 L420.1,473.86 L420.6,473.71 L421.1,473.56 L421.6,473.42 L422.1,473.28 L422.6,473.15 L423.1,473.03 L423.6,472.91 L424.1,472.79 L424.6,472.68 L425.1,472.57 L425.6,472.47 L426.1,472.37 L426.6,472.28 L427.1,472.19 L427.6,472.11 L428.1,472.03 L428.6,471.95 L429.1,471.88 L429.6,471.82 L430.1,471.76 L430.6,471.7 L431.1,471.65 L431.6,471.6 L432.1,471.56 L432.6,471.52 L433.1,471.49 L433.6,471.46 L434.1,471.44 L434.6,471.42 L435.1,471.4 L435.6,471.39 L436.1,471.38 L436.6,471.38 L437.1,471.38 L437.6,471.39 L438.1,471.4 L438.6,471.41 L439.1,471.43 L439.6,471.45 L440.1,471.47 L440.6,471.5 L441.1,471.54 L441.6,471.58 L442.1,471.62 L442.6,471.66 L443.1,471.71 L443.6,471.77 L444.1,471.82 L444.6,471.88 L445.1,471.95 L445.6,472.01 L446.1,472.08 L446.6,472.16 L447.1,472.24 L447.6,472.32 L448.1,472.4 L448.6,472.49 L449.1,472.58 L449.6,472.68 L450.1,472.78 L450.6,472.88 L451.1,472.98 L451.6,473.09 L452.1,473.2 L452.6,473.31 L453.1,473.43 L453.6,473.55 L454.1,473.67 L454.6,473.79 L455.1,473.92 L455.6,474.05 L456.1,474.18 L456.6,474.32 L457.1,474.45 L457.6,474.59 L458.1,474.74 L458.6,474.88 L459.1,475.03 L459.6,475.18 L460.1,475.33 L460.6,475.48 L461.1,475.64 L461.6,475.8 L462.1,475.96 L462.6,476.12 L463.1,476.28 L463.6,476.45 L464.1,476.62 L464.6,476.79 L465.1,476.96 L465.6,477.13 L466.1,477.31 L466.6,477.48 L467.1,477.66 L467.6,477.84 L468.1,478.02 L468.6,478.2 L469.1,478.39 L469.6,478.57 L470.1,478.76 L470.6,478.94 L471.1,479.13 L471.6,479.32 L472.1,479.51 L472.6,479.7 L473.1,479.9 L473.6,480.09 L474.1,480.28 L474.6,480.48 L475.1,480.67 L475.6,480.87 L476.1,481.07 L476.6,481.27 L477.1,481.47 L477.6,481.67 L478.1,481.87 L478.6,482.07 L479.1,482.27 L479.6,482.47 L480.1,482.67 L480.6,482.87 L481.1,483.07 L481.6,483.28 L482.1,483.48 L482.6,483.68 L483.1,483.89 L483.6,484.09 L484.1,484.29 L484.6,484.5 L485.1,484.7 L485.6,484.9 L486.1,485.11 L486.6,485.31 L487.1,485.51 L487.6,485.72 L488.1,485.92 L488.6,486.12 L489.1,486.32 L489.6,486.53 L490.1,486.73 L490.6,486.93 L491.1,487.13 L491.6,487.33 L492.1,487.53 L492.6,487.73 L493.1,487.93 L493.6,488.13 L494.1,488.33 L494.6,488.52 L495.1,488.72 L495.6,488.92 L496.1,489.11 L496.6,489.31 L497.1,489.5 L497.6,489.69 L498.1,489.89 L498.6,490.08 L499.1,490.27 L499.6,490.46 L500.1,490.65 L500.6,490.84 L501.1,491.03 L501.6,491.21 L502.1,491.4 L502.6,491.58 L503.1,491.77 L503.6,491.95 L504.1,492.13 L504.6,492.31 L505.1,492.49 L505.6,492.67 L506.1,492.85 L506.6,493.03 L507.1,493.2 L507.6,493.38 L508.1,493.55 L508.6,493.72 L509.1,493.89 L509.6,494.06 L510.1,494.23 L510.6,494.4 L511.1,494.57 L511.6,494.73 L512.1,494.9 L512.6,495.06 L513.1,495.22 L513.6,495.38 L514.1,495.54 L514.6,495.7 L515.1,495.86 L515.6,496.01 L516.1,496.17 L516.6,496.32 L517.1,496.47 L517.6,496.62 L518.1,496.77 L518.6,496.92 L519.1,497.07 L519.6,497.21 L520.1,497.36 L520.6,497.5 L521.1,497.64 L521.6,497.78 L522.1,497.92 L522.6,498.06 L523.1,498.19 L523.6,498.33 L524.1,498.46 L524.6,498.59 L525.1,498.73 L525.6,498.86 L526.1,498.98 L526.6,499.11 L527.1,499.24 L527.6,499.36 L528.1,499.48 L528.6,499.61 L529.1,499.73 L529.6,499.85 L530.1,499.97 L530.6,500.08 L531.1,500.2 L531.6,500.31 L532.1,500.42 L532.6,500.54 L533.1,500.65 L533.6,500.76 L534.1,500.86 L534.6,500.97 L535.1,501.08 L535.6,501.18 L536.1,501.28 L536.6,501.39 L537.1,501.49 L537.6,501.58 L538.1,501.68 L538.6,501.78 L539.1,501.88 L539.6,501.97 L540.1,502.06 L540.6,502.16 L541.1,502.25 L541.6,502.34 L542.1,502.42 L542.6,502.51 L543.1,502.6 L543.6,502.68 L544.1,502.77 L544.6,502.85 L545.1,502.93 L545.6,503.01 L546.1,503.09 L546.6,503.17 L547.1,503.25 L547.6,503.33 L548.1,503.4 L548.6,503.47 L549.1,503.55 L549.6,503.62 L550.1,503.69 L550.6,503.76 L551.1,503.83 L551.6,503.9 L552.1,503.97 L552.6,504.03 L553.1,504.1 L553.6,504.16 L554.1,504.23 L554.6,504.29 L555.1,504.35 L555.6,504.41 L556.1,504.47 L556.6,504.53 L557.1,504.59 L557.6,504.64 L558.1,504.7 L558.6,504.75 L559.1,504.81 L559.6,504.86 L560.1,504.91 L560.6,504.96 L561.1,505.02 L561.6,505.07 L562.1,505.12 L562.6,505.16 L563.1,505.21 L563.6,505.26 L564.1,505.3 L564.6,505.35 L565.1,505.39 L565.6,505.44 L566.1,505.48 L566.6,505.52 L567.1,505.57 L567.6,505.61 L568.1,505.65 L568.6,505.69 L569.1,505.72 L569.6,505.76 L570.1,505.8 L570.6,505.84 L571.1,505.87 L571.6,505.91 L572.1,505.94 L572.6,505.98 L573.1,506.01 L573.6,506.05 L574.1,506.08 L574.6,506.11 L575.1,506.14 L575.6,506.17 L576.1,506.2 L576.6,506.23 L577.1,506.26 L577.6,506.29 L578.1,506.32 L578.6,506.35 L579.1,506.37 L579.6,506.4 L580.1,506.43 L580.6,506.45 L581.1,506.48 L581.6,506.5 L582.1,506.53 L582.6,506.55 L583.1,506.57 L583.6,506.6 L584.1,506.62 L584.6,506.64 L585.1,506.66 L585.6,506.68 L586.1,506.7 L586.6,506.72 L587.1,506.74 L587.6,506.76 L588.1,506.78 L588.6,506.8 L589.1,506.82 L589.6,506.84 L590.1,506.85 L590.6,506.87 L591.1,506.89 L591.6,506.9 L592.1,506.92 L592.6,506.94 L593.1,506.95 L593.6,506.97 L594.1,506.98 L594.6,507 L595.1,507.01 L595.6,507.02 L596.1,507.04 L596.6,507.05 L597.1,507.06 L597.6,507.08 L598.1,507.09 L598.6,507.1 L599.1,507.11 L599.6,507.13 L600.1,507.14 L600.6,507.15 L601.1,507.16 L601.6,507.17 L602.1,507.18 L602.6,507.19 L603.1,507.2 L603.6,507.21 L604.1,507.22 L604.6,507.23 L605.1,507.24 L605.6,507.25 L606.1,507.26 L606.6,507.27 L607.1,507.27 L607.6,507.28 L608.1,507.29 L608.6,507.3 L609.1,507.31 L609.6,507.31 L610.1,507.32 L610.6,507.33 L611.1,507.33 L611.6,507.34 L612.1,507.35 L612.6,507.35 L613.1,507.36 L613.6,507.37 L614.1,507.37 L614.6,507.38 L615.1,507.38 L615.6,507.39 L616.1,507.4 L616.6,507.4 L617.1,507.41 L617.6,507.41 L618.1,507.42 L618.6,507.42 L619.1,507.43 L619.6,507.43 L620.1,507.44 L620.6,507.44 L621.1,507.44 L621.6,507.45 L622.1,507.45 L622.6,507.46 L623.1,507.46 L623.6,507.46 L624.1,507.47 L624.6,507.47 L625.1,507.47 L625.6,507.48 L626.1,507.48 L626.6,507.48 L627.1,507.49 L627.6,507.49 L628.1,507.49 L628.6,507.5 L629.1,507.5 L629.6,507.5 L630.1,507.51 L630.6,507.51 L631.1,507.51 L631.6,507.51 L632.1,507.52 L632.6,507.52 L633.1,507.52 L633.6,507.52 L634.1,507.52 L634.6,507.53 L635.1,507.53 L635.6,507.53 L636.1,507.53 L636.6,507.53 L637.1,507.54 L637.6,507.54 L638.1,507.54 L638.6,507.54 L639.1,507.54 L639.6,507.55 L640.1,507.55 L640.6,507.55 L641.1,507.55 L641.6,507.55 L642.1,507.55 L642.6,507.55 L643.1,507.56 L643.6,507.56 L644.1,507.56 L644.6,507.56 L645.1,507.56 L645.6,507.56 L646.1,507.56 L646.6,507.56 L647.1,507.57 L647.6,507.57 L648.1,507.57 L648.6,507.57 L649.1,507.57 L649.6,507.57 L650.1,507.57 L650.6,507.57 L651.1,507.57 L651.6,507.57 L652.1,507.57 L652.6,507.58 L653.1,507.58 L653.6,507.58 L654.1,507.58 L654.6,507.58 L655.1,507.58 L655.6,507.58 L656.1,507.58 L656.6,507.58 L657.1,507.58 L657.6,507.58 L658.1,507.58 L658.6,507.58 L659.1,507.58 L659.6,507.58 L660.1,507.58 L660.6,507.58 L661.1,507.59 L661.6,507.59 L662.1,507.59 L662.6,507.59 L663.1,507.59 L663.6,507.59 L664.1,507.59 L664.6,507.59 L665.1,507.59 L665.6,507.59 L666.1,507.59 L666.6,507.59 L667.1,507.59 L667.6,507.59 L668.1,507.59 L668.6,507.59 L669.1,507.59 L669.6,507.59 L670.1,507.59 L670.6,507.59 L671.1,507.59 L671.6,507.59 L672.1,507.59 L672.6,507.59 L673.1,507.59 L673.6,507.59 L674.1,507.59 L674.6,507.59 L675.1,507.59 L675.6,507.59 L676.1,507.59 L676.6,507.59 L677.1,507.59 L677.6,507.6 L678.1,507.6 L678.6,507.6 L679.1,507.6 L679.6,507.6 L680.1,507.6 L680.6,507.6 L681.1,507.6 L681.6,507.6 L682.1,507.6 L682.6,507.6 L683.1,507.6" fill="none" stroke="#e07348" stroke-width="4.2"/>
<line x1="311" y1="621" x2="424.3" y2="411" stroke="#3faadb" stroke-width="4.6" stroke-dasharray="21 22.5"/>
<line x1="309" y1="561" x2="424.3" y2="461.4" stroke="#e3a18b" stroke-width="5" stroke-dasharray="21.5 21.5"/>
<text x="268.71" y="555.9" font-size="16.5" style='font-family:"Liberation Serif"' font-style="italic" fill="#231f20">σ</text><text x="277.58" y="560.6" font-size="11.5" style='font-family:"Liberation Sans"' fill="#231f20">A</text>
<line x1="290" y1="553" x2="315.4" y2="553" stroke="#666" stroke-width="2" stroke-dasharray="1.9 1.3"/>
<text x="265.01" y="618.9" font-size="16.5" style='font-family:"Liberation Serif"' font-style="italic" fill="#231f20">σ</text><text x="273.86" y="622.7" font-size="11.5" style='font-family:"Liberation Sans"' fill="#231f20">B</text>
<line x1="286.2" y1="613.3" x2="310" y2="613.3" stroke="#666" stroke-width="2" stroke-dasharray="1.9 1.3"/>
<text x="33.53" y="433.9" font-size="15.5" style='font-family:"Liberation Sans"' fill="#231f20">8</text><text x="42.15" y="433.9" font-size="15.5" style='font-family:"Liberation Sans"' fill="#231f20">0</text>
<text x="42.39" y="512.8" font-size="15.5" style='font-family:"Liberation Sans"' fill="#231f20">0</text>
<text x="24.64" y="592.4" font-size="15.5" style='font-family:"Liberation Sans"' fill="#231f20">−</text><text x="33.53" y="592" font-size="15.5" style='font-family:"Liberation Sans"' fill="#231f20">8</text><text x="42.15" y="592" font-size="15.5" style='font-family:"Liberation Sans"' fill="#231f20">0</text>
<text x="149.64" y="656.9" font-size="15.5" style='font-family:"Liberation Sans"' fill="#231f20">−</text><text x="158.61" y="656.4" font-size="15.5" style='font-family:"Liberation Sans"' fill="#231f20">3</text><text x="167.23" y="656.4" font-size="15.5" style='font-family:"Liberation Sans"' fill="#231f20">0</text>
<text x="366.59" y="656.4" font-size="15.5" style='font-family:"Liberation Sans"' fill="#231f20">0</text>
<text x="570.81" y="656.4" font-size="15.5" style='font-family:"Liberation Sans"' fill="#231f20">3</text><text x="579.43" y="656.4" font-size="15.5" style='font-family:"Liberation Sans"' fill="#231f20">0</text>
<text x="342.47" y="677.7" font-size="14" style='font-family:"Liberation Serif"' fill="#231f20">Δ</text><text x="353.5" y="677.7" font-size="15" style='font-family:"Liberation Sans"' font-style="italic" fill="#231f20">x</text><text x="363.77" y="677.7" font-size="15" style='font-family:"Liberation Sans"' fill="#231f20">(</text><text x="368.87" y="677.7" font-size="15" style='font-family:"Liberation Sans"' fill="#231f20">µ</text><text x="377.7" y="677.7" font-size="15" style='font-family:"Liberation Sans"' fill="#231f20">m</text><text x="391.11" y="677.7" font-size="15" style='font-family:"Liberation Sans"' fill="#231f20">)</text>
<g transform="translate(19.8,542.77) rotate(-90)"><text x="0.01" y="0" font-size="15" style='font-family:"Liberation Sans"' font-style="italic" fill="#231f20">F</text><text x="9.17" y="0" font-size="15" style='font-family:"Liberation Sans"' fill="#231f20"> </text><text x="13.34" y="0" font-size="15" style='font-family:"Liberation Sans"' fill="#231f20">(</text><text x="18.33" y="0" font-size="15" style='font-family:"Liberation Sans"' fill="#231f20">m</text><text x="30.83" y="0" font-size="15" style='font-family:"Liberation Sans"' fill="#231f20">m</text><text x="43.32" y="-8.6" font-size="10.5" style='font-family:"Liberation Sans"' fill="#231f20">−</text><text x="49.46" y="-8.6" font-size="10.5" style='font-family:"Liberation Sans"' fill="#231f20">2</text><text x="55.3" y="0" font-size="15" style='font-family:"Liberation Sans"' fill="#231f20">)</text></g>
<line x1="567.3" y1="416.6" x2="611.1" y2="416.6" stroke="#df5c30" stroke-width="4.5"/>
<line x1="567.3" y1="446.5" x2="611.1" y2="446.5" stroke="#0a6fae" stroke-width="4.5"/>
<text x="617.91" y="423" font-size="16" style='font-family:"Liberation Sans"' font-style="italic" fill="#231f20">F</text>
<text x="626.58" y="426.7" font-size="11.3" style='font-family:"Liberation Sans"' fill="#231f20">A</text>
<text x="617.91" y="452.8" font-size="16" style='font-family:"Liberation Sans"' font-style="italic" fill="#231f20">F</text>
<text x="625.97" y="456.4" font-size="11.3" style='font-family:"Liberation Sans"' fill="#231f20">B</text>
<text x="218.77" y="443.7" font-size="14" style='font-family:"Liberation Serif"' fill="#231f20">Δ</text><text x="229.8" y="443.7" font-size="15" style='font-family:"Liberation Sans"' font-style="italic" fill="#231f20">x</text><text x="247.31" y="443.7" font-size="15" style='font-family:"Liberation Sans"' fill="#231f20">0</text>
<polyline points="245.2,437.0 238.0,440.1 245.2,443.2" fill="none" stroke="#231f20" stroke-width="1.25" stroke-linejoin="round"/>
<text x="476.97" y="555.3" font-size="14" style='font-family:"Liberation Serif"' fill="#231f20">Δ</text><text x="487.7" y="555.3" font-size="15" style='font-family:"Liberation Sans"' font-style="italic" fill="#231f20">x</text><text x="504.41" y="555.3" font-size="15" style='font-family:"Liberation Sans"' fill="#231f20">0</text>
<polyline points="494.4,547.8 503.2,551.0 494.4,554.3" fill="none" stroke="#231f20" stroke-width="1.25" stroke-linejoin="round"/>
</svg></body></html>
